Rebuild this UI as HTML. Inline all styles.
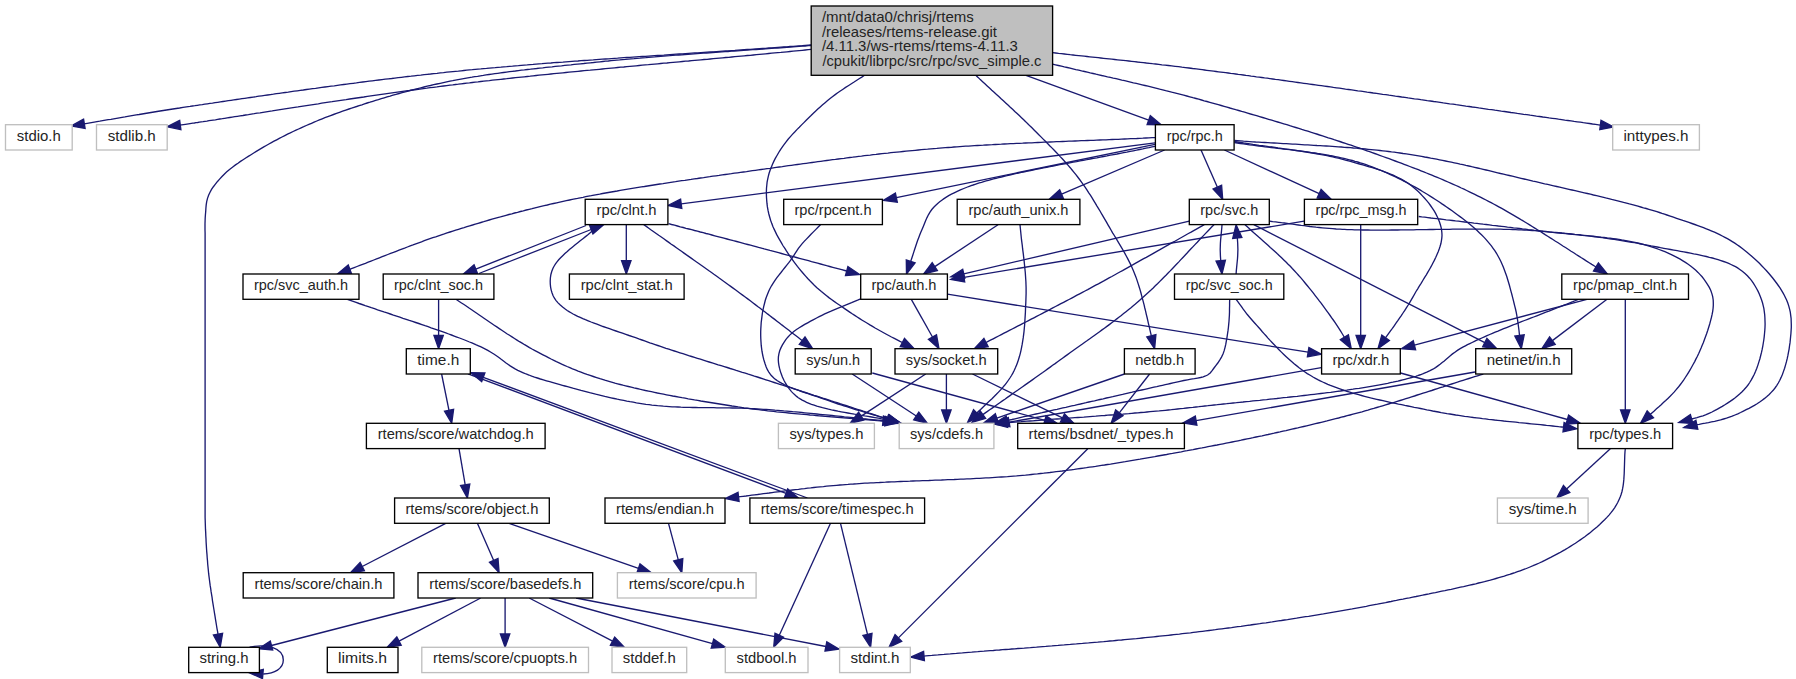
<!DOCTYPE html>
<html><head><meta charset="utf-8"><title>svc_simple.c include graph</title><style>
html,body{margin:0;padding:0;background:#fff;overflow:hidden}
svg{display:block}
text{font-family:"Liberation Sans",sans-serif;font-size:13.93px;fill:#242424}
.n rect{stroke-width:1.333px}
.e path{fill:none;stroke:#191970;stroke-width:1.333px}
.e polygon{fill:#191970;stroke:#191970;stroke-width:1.333px;stroke-linejoin:miter}
</style></head><body>
<svg width="1796" height="679" viewBox="0 0 1796 679">
<rect x="0" y="0" width="1796" height="679" fill="#fff"/>
<g class="e">
<path d="M811.2,45L808.2,45.2 805.2,45.4 802.2,45.7 799.1,45.9 796.1,46.1 793.1,46.3 790,46.5 787,46.8 784,47 780.9,47.2 777.9,47.4 774.8,47.6 771.8,47.8 768.7,48 765.6,48.3 762.6,48.5 759.5,48.7 756.4,48.9 753.4,49.1 750.3,49.3 747.2,49.5 744.2,49.7 741.1,49.9 738,50.1 734.9,50.4 731.8,50.6 728.8,50.8 725.7,51 722.6,51.2 719.5,51.4 716.4,51.6 713.3,51.8 710.2,52 707.1,52.2 704,52.4 700.9,52.6 697.9,52.8 694.8,53 691.7,53.2 688.6,53.4 685.5,53.6 682.4,53.8 679.3,54 676.2,54.2 673.1,54.4 670,54.6 666.9,54.8 663.8,55.1 660.7,55.3 657.7,55.5 654.6,55.7 651.5,55.9 648.4,56.1 645.3,56.3 642.2,56.5 639.1,56.7 636.1,56.9 633,57.1 629.9,57.3 626.8,57.5 623.8,57.7 620.7,57.9 617.6,58.2 614.6,58.4 611.5,58.6 608.4,58.8 605.4,59 602.3,59.2 599.3,59.4 596.2,59.6 593.2,59.9 590.1,60.1 587.1,60.3 584.1,60.5 581,60.7 578,61 575,61.2 572,61.4 569,61.6 565.9,61.8 562.9,62.1 559.9,62.3 556.9,62.5 553.9,62.7 550.9,63 548,63.2 545,63.4 542,63.7 539,63.9 536.1,64.1 533.1,64.4 530.2,64.6 527.2,64.9 524.3,65.1 521.3,65.3 518.4,65.6 515.5,65.8 512.5,66.1 509.6,66.3 506.7,66.6 503.8,66.8 500.9,67.1 498,67.3 495.1,67.6 492.3,67.8 489.4,68.1 486.5,68.4 483.7,68.6 480.8,68.9 478,69.1 475.2,69.4 472.3,69.7 469.5,69.9 466.7,70.2 463.9,70.5 461.1,70.8 458.3,71.1 455.5,71.3 452.8,71.6 450,71.9 446.8,72.2 443.5,72.6 440.3,72.9 437,73.3 433.8,73.6 430.5,74 427.3,74.3 424.1,74.7 420.8,75.1 417.6,75.4 414.3,75.8 411.1,76.2 407.8,76.5 404.6,76.9 401.4,77.3 398.1,77.7 394.9,78.1 391.7,78.5 388.4,78.8 385.2,79.2 382,79.6 378.8,80 375.6,80.4 372.3,80.8 369.1,81.2 365.9,81.6 362.7,82 359.6,82.4 356.4,82.9 353.2,83.3 350,83.7 346.9,84.1 343.7,84.5 340.5,84.9 337.4,85.3 334.3,85.8 331.1,86.2 328,86.6 324.9,87 321.8,87.4 318.7,87.8 315.6,88.3 312.5,88.7 309.4,89.1 306.4,89.5 303.3,90 300.3,90.4 297.3,90.8 294.2,91.2 291.2,91.6 288.2,92.1 285.2,92.5 282.3,92.9 279.3,93.3 276.4,93.7 273.4,94.2 270.5,94.6 267.6,95 264.7,95.4 261.8,95.8 258.9,96.2 256.1,96.7 253.2,97.1 250.4,97.5 247.6,97.9 244.8,98.3 242,98.7 239.2,99.1 236.5,99.5 233.8,99.9 231,100.3 228.3,100.7 225.6,101.1 223,101.5 220.3,101.9 217.7,102.3 215.1,102.7 212.5,103.1 209.9,103.4 207.4,103.8 204.8,104.2 202.3,104.6 199.8,104.9 197.3,105.3 194.9,105.7 192.4,106 190,106.4 186.5,106.9 183,107.4 179.6,108 176.2,108.5 172.9,109 169.7,109.5 166.5,110 163.3,110.5 160.1,111 157,111.5 154,112 151,112.5 148,113 145,113.5 142.1,114 139.1,114.5 136.3,114.9 133.4,115.4 130.5,115.9 127.7,116.4 124.9,116.9 122.1,117.3 119.3,117.8 116.5,118.3 113.7,118.8 110.9,119.3 108.2,119.7 105.4,120.2 102.6,120.7 99.8,121.2 97,121.6 94.2,122.1 91.4,122.6 88.6,123.1 85.7,123.6 84.4,123.8"/><polygon points="83.6,119.2 71.2,126 85.1,128.4"/>
<path d="M811.2,49.4L808.2,49.7 805.2,50 802.2,50.3 799.1,50.6 796.1,50.9 793.1,51.2 790,51.5 787,51.8 784,52.1 780.9,52.4 777.9,52.6 774.8,52.9 771.8,53.2 768.7,53.5 765.6,53.8 762.6,54.1 759.5,54.4 756.4,54.7 753.4,55 750.3,55.3 747.2,55.5 744.2,55.8 741.1,56.1 738,56.4 734.9,56.7 731.8,57 728.8,57.3 725.7,57.5 722.6,57.8 719.5,58.1 716.4,58.4 713.3,58.7 710.2,59 707.1,59.3 704,59.5 700.9,59.8 697.9,60.1 694.8,60.4 691.7,60.7 688.6,61 685.5,61.2 682.4,61.5 679.3,61.8 676.2,62.1 673.1,62.4 670,62.7 666.9,63 663.8,63.2 660.7,63.5 657.7,63.8 654.6,64.1 651.5,64.4 648.4,64.7 645.3,64.9 642.2,65.2 639.1,65.5 636.1,65.8 633,66.1 629.9,66.4 626.8,66.7 623.8,67 620.7,67.2 617.6,67.5 614.6,67.8 611.5,68.1 608.4,68.4 605.4,68.7 602.3,69 599.3,69.3 596.2,69.6 593.2,69.9 590.2,70.2 587.1,70.4 584.1,70.7 581,71 578,71.3 575,71.6 572,71.9 569,72.2 565.9,72.5 562.9,72.8 559.9,73.1 556.9,73.4 553.9,73.7 550.9,74 548,74.3 545,74.6 542,74.9 539,75.2 536.1,75.5 533.1,75.8 530.2,76.2 527.2,76.5 524.3,76.8 521.3,77.1 518.4,77.4 515.5,77.7 512.5,78 509.6,78.3 506.7,78.7 503.8,79 500.9,79.3 498,79.6 495.1,79.9 492.3,80.2 489.4,80.6 486.5,80.9 483.7,81.2 480.8,81.5 478,81.9 475.2,82.2 472.3,82.5 469.5,82.9 466.7,83.2 463.9,83.5 461.1,83.8 458.3,84.2 455.5,84.5 452.8,84.9 450,85.2 446.7,85.6 443.5,86 440.2,86.4 436.9,86.9 433.5,87.3 430.1,87.7 426.8,88.2 423.4,88.6 419.9,89.1 416.5,89.5 413.1,90 409.6,90.5 406.1,90.9 402.6,91.4 399.1,91.9 395.6,92.4 392.1,92.9 388.6,93.4 385.1,93.9 381.5,94.4 378,94.9 374.4,95.4 370.9,95.9 367.4,96.4 363.8,97 360.3,97.5 356.7,98 353.2,98.5 349.7,99 346.1,99.6 342.6,100.1 339.1,100.6 335.6,101.1 332.1,101.7 328.6,102.2 325.2,102.7 321.7,103.2 318.3,103.8 314.8,104.3 311.4,104.8 308,105.3 304.7,105.8 301.3,106.3 298,106.9 294.7,107.4 291.4,107.9 288.1,108.4 284.9,108.9 281.7,109.4 278.5,109.9 275.4,110.4 272.2,110.9 269.1,111.3 266.1,111.8 263,112.3 260.1,112.8 257.1,113.2 254.2,113.7 251.3,114.1 248.4,114.6 245.6,115 242.9,115.5 240.1,115.9 237.4,116.3 234.8,116.7 232.2,117.1 229.7,117.5 227.2,117.9 224.7,118.3 222.3,118.7 219.9,119 217.6,119.4 215.4,119.8 213.2,120.1 211.1,120.4 209,120.7 206.9,121.1 205,121.4 203.1,121.7 201.2,121.9 199.4,122.2 197.7,122.5 196,122.7 194.4,123 192.9,123.2 191.4,123.4 190,123.6 185.4,124.3 181.6,124.8 180.3,125"/><polygon points="179.7,120.4 167.1,126.8 180.9,129.6"/>
<path d="M811.2,45.5L808.2,45.7 805.2,46 802.1,46.2 799.1,46.4 796,46.6 793,46.9 789.9,47.1 786.9,47.3 783.8,47.5 780.7,47.8 777.6,48 774.5,48.2 771.5,48.4 768.4,48.6 765.3,48.9 762.2,49.1 759.1,49.3 756,49.5 752.9,49.7 749.8,49.9 746.7,50.2 743.6,50.4 740.5,50.6 737.4,50.8 734.3,51 731.2,51.2 728.1,51.5 725,51.7 721.9,51.9 718.8,52.1 715.7,52.3 712.6,52.5 709.5,52.8 706.4,53 703.3,53.2 700.2,53.4 697.2,53.6 694.1,53.9 691,54.1 688,54.3 684.9,54.5 681.9,54.8 678.8,55 675.8,55.2 672.7,55.4 669.7,55.7 666.7,55.9 663.7,56.1 660.7,56.4 657.7,56.6 654.7,56.9 651.7,57.1 648.7,57.3 645.8,57.6 642.8,57.8 639.9,58.1 637,58.3 634.1,58.6 631.2,58.8 628.3,59.1 625.4,59.4 622.5,59.6 619.6,59.9 616.8,60.1 614,60.4 611.1,60.7 608.3,61 605.5,61.2 602.8,61.5 600,61.8 596.7,62.1 593.5,62.5 590.3,62.8 587,63.1 583.8,63.5 580.6,63.8 577.4,64.1 574.2,64.4 571,64.8 567.8,65.1 564.7,65.4 561.5,65.8 558.4,66.1 555.2,66.4 552.1,66.8 549,67.1 545.9,67.4 542.8,67.8 539.7,68.1 536.6,68.5 533.6,68.8 530.5,69.2 527.5,69.5 524.4,69.9 521.4,70.2 518.4,70.6 515.4,71 512.4,71.3 509.5,71.7 506.5,72.1 503.5,72.5 500.6,72.9 497.7,73.3 494.8,73.7 491.9,74.1 489,74.5 486.1,74.9 483.3,75.4 480.4,75.8 477.6,76.3 474.8,76.7 472,77.2 469.2,77.6 466.4,78.1 463.6,78.6 460.9,79.1 458.1,79.6 455.4,80.1 452.7,80.7 450,81.2 446.7,81.9 443.4,82.6 440.2,83.3 436.9,84 433.7,84.7 430.4,85.5 427.2,86.2 424,87 420.8,87.8 417.7,88.6 414.5,89.4 411.4,90.2 408.3,91 405.2,91.8 402.1,92.7 399.1,93.5 396,94.4 393,95.2 390.1,96.1 387.1,96.9 384.2,97.8 381.3,98.7 378.4,99.6 375.6,100.4 372.8,101.3 370,102.2 367.2,103 364.5,103.9 361.9,104.8 359.2,105.6 356.6,106.5 354,107.3 351.5,108.2 349,109 345.8,110.1 342.6,111.2 339.5,112.3 336.5,113.4 333.5,114.5 330.6,115.6 327.8,116.6 324.9,117.7 322.2,118.8 319.4,119.9 316.8,121 314.1,122.2 311.5,123.3 308.9,124.4 306.3,125.5 303.7,126.7 301.1,127.8 298.6,129 296,130.2 293.1,131.5 290.3,132.9 287.5,134.2 284.8,135.6 282,137 279.3,138.4 276.7,139.8 274,141.2 271.4,142.6 268.9,144 266.3,145.5 263.8,146.9 261.3,148.4 258.8,149.9 256.3,151.4 253.7,153 251,154.7 248.3,156.4 245.7,158 243.1,159.7 240.5,161.4 238,163.2 235.5,164.9 233.1,166.7 230.8,168.5 228.6,170.3 226.5,172.1 224.5,174 222,176.5 219.6,179.1 217.3,181.7 215.2,184.4 213.2,187 211.4,189.7 209.9,192.5 208.6,195.2 207.5,198.4 206.7,201.6 206.2,204.9 205.9,208.2 205.7,211.5 205.4,215 205.2,217.9 205.1,220.8 205,223.8 205,226.8 205,229.9 205.1,233.1 205.1,236.4 205.1,240 205.1,242.7 205.1,245.4 205.1,248.3 205.1,251.3 205.1,254.4 205.1,257.5 205.1,260.7 205.1,263.9 205.1,267.2 205.1,270.5 205.1,273.8 205.1,277.1 205.1,280.4 205.1,283.6 205.1,286.8 205.1,290 205.1,293.1 205.1,296.2 205.1,299.4 205.1,302.5 205.1,305.6 205.1,308.8 205.1,311.9 205.1,315 205.1,318.1 205.1,321.2 205.1,324.4 205.1,327.5 205.1,330.6 205.1,333.8 205.1,336.9 205.1,340 205.1,343.1 205.1,346.2 205.1,349.4 205.1,352.5 205.1,355.6 205.1,358.8 205.1,361.9 205.1,365 205.1,368.1 205.1,371.2 205.1,374.4 205.1,377.5 205.1,380.6 205.1,383.8 205.1,386.9 205.1,390 205.1,393.1 205.1,396.2 205.1,399.4 205.1,402.5 205.1,405.6 205.1,408.8 205.1,411.9 205.1,415 205.1,418.1 205.1,421.2 205.1,424.4 205.1,427.5 205.1,430.6 205.1,433.8 205.1,436.9 205.1,440 205.1,443.1 205.1,446.3 205.1,449.5 205.1,452.7 205.1,456 205.1,459.2 205.1,462.4 205.1,465.6 205.1,468.8 205.1,472 205.1,475.1 205.1,478.2 205.1,481.2 205.1,484.2 205.1,487.1 205.1,490 205.1,493.3 205.1,496.4 205.1,499.5 205.1,502.4 205.1,505.4 205.1,508.3 205.1,511.2 205.1,514.2 205.1,517.2 205.2,520.3 205.3,523.5 205.4,526.4 205.5,529.4 205.7,532.4 205.8,535.5 206,538.6 206.1,541.8 206.3,545 206.5,548.2 206.7,551.4 207,554.6 207.2,557.8 207.5,560.9 207.7,564 208,567 208.3,570 208.6,573.2 209,576.4 209.4,579.5 209.8,582.6 210.2,585.7 210.7,588.7 211.1,591.7 211.6,594.7 212.1,597.7 212.5,600.8 213,603.9 213.5,607 214,610 214.5,613.1 215,616.2 215.5,619.3 216,622.4 216.5,625.5 217,628.6 217.6,631.7 218,634.2"/><polygon points="213.4,635 220.2,647.3 222.6,633.4"/>
<path d="M864.5,75.3L861.8,77.1 859.1,78.8 856.4,80.5 853.7,82.3 851,84 848.3,85.7 845.6,87.4 843,89.2 840.3,91 837.7,92.8 835.2,94.6 832.7,96.5 830.1,98.5 827.6,100.6 825.1,102.7 822.6,104.8 820.2,106.9 817.8,109.1 815.5,111.3 813.1,113.5 810.8,115.8 808.5,118 806.2,120.3 803.9,122.6 801.6,124.9 799.3,127.3 796.9,129.6 794.7,132 792.4,134.4 790.2,136.9 788.1,139.3 786.1,141.8 784.2,144.3 782.4,146.8 780.5,149.6 778.7,152.5 777,155.5 775.3,158.4 773.8,161.4 772.4,164.4 771.2,167.4 770.1,170.3 769.1,173.3 768.3,176.3 767.7,179.2 767.1,182.2 766.8,185.2 766.5,188.2 766.4,191.2 766.4,194.2 766.5,197.2 766.7,200.4 767,203.7 767.4,206.9 768,210.2 768.7,213.5 769.6,216.8 770.6,220.2 771.8,223.6 772.8,226.2 774,228.9 775.3,231.6 776.6,234.4 778.1,237.1 779.7,239.9 781.3,242.7 782.9,245.5 784.7,248.2 786.4,250.9 788.2,253.6 789.9,256.2 791.7,258.7 793.6,261.3 795.5,263.9 797.4,266.4 799.4,268.9 801.4,271.3 803.5,273.7 805.6,276.1 807.7,278.5 809.9,280.8 812.1,283 814.3,285.2 816.6,287.4 819,289.5 821.4,291.6 823.8,293.6 826.3,295.6 828.9,297.6 831.5,299.5 834.1,301.4 836.7,303.2 839.4,305 842,306.8 844.6,308.6 847.2,310.4 849.7,312.1 852.2,313.8 854.7,315.4 857.2,317 859.7,318.6 862.2,320.2 864.8,321.8 867.3,323.3 869.9,324.9 872.5,326.4 875.1,328 877.8,329.5 880.5,331 883.2,332.5 885.9,334 888.7,335.5 891.5,337 894.3,338.4 897.2,339.9 900,341.4 902.4,342.5"/><polygon points="900.2,346.7 914.2,348.7 904.5,338.4"/>
<path d="M975.8,75.3L978.1,77.4 980.3,79.6 982.6,81.7 984.9,83.8 987.2,85.9 989.5,88 991.8,90.2 994.1,92.3 996.5,94.4 998.8,96.5 1001.1,98.7 1003.4,100.8 1005.7,102.9 1008,105 1010.3,107.2 1012.6,109.3 1014.8,111.4 1017.1,113.5 1019.3,115.6 1021.5,117.7 1023.7,119.8 1025.9,121.9 1028,124 1030.1,126.1 1032.2,128.1 1034.3,130.2 1036.6,132.5 1038.8,134.7 1041,136.9 1043.2,139.1 1045.4,141.3 1047.6,143.5 1049.7,145.7 1051.9,147.9 1054,150 1056.1,152.2 1058.2,154.4 1060.2,156.6 1062.3,158.8 1064.3,161 1066.3,163.2 1068.2,165.4 1070.2,167.7 1072.1,170 1074,172.3 1075.9,174.6 1077.7,177 1079.6,179.5 1081.5,182.1 1083.3,184.6 1085.1,187.2 1086.9,189.9 1088.6,192.6 1090.4,195.2 1092.1,197.9 1093.7,200.6 1095.4,203.4 1097,206.1 1098.7,208.8 1100.3,211.5 1101.8,214.2 1103.4,216.9 1105,219.6 1106.5,222.2 1108,224.8 1109.5,227.4 1111,230 1112.6,232.8 1114.3,235.5 1115.9,238.1 1117.4,240.7 1119,243.3 1120.5,245.9 1122,248.4 1123.5,251 1125,253.6 1126.4,256.2 1127.8,258.9 1129.2,261.6 1130.6,264.4 1131.9,267.3 1133.2,270.3 1134.5,273.4 1135.5,276 1136.5,278.6 1137.4,281.4 1138.3,284.1 1139.2,287 1140.1,289.9 1140.9,292.8 1141.7,295.8 1142.5,298.8 1143.3,301.8 1144.1,304.9 1144.8,308 1145.6,311.2 1146.3,314.3 1147.1,317.5 1147.8,320.6 1148.5,323.8 1149.3,326.9 1150,330.1 1150.7,333.2 1151.3,335.7"/><polygon points="1146.8,336.9 1154.6,348.7 1155.9,334.6"/>
<path d="M1026,75.3L1148.7,120.1"/><polygon points="1147.1,124.5 1161.2,124.7 1150.3,115.7"/>
<path d="M1052.6,52.7L1055.6,53 1058.6,53.4 1061.5,53.7 1064.4,54 1067.3,54.3 1070.2,54.7 1073,55 1075.8,55.3 1078.7,55.6 1081.5,55.9 1084.2,56.2 1087,56.5 1089.8,56.8 1092.6,57.1 1095.3,57.4 1098.1,57.7 1100.8,58 1103.6,58.3 1106.3,58.6 1109.1,58.9 1111.9,59.2 1114.7,59.5 1117.5,59.8 1120.3,60.1 1123.1,60.4 1125.9,60.7 1128.8,61 1131.6,61.3 1134.5,61.6 1137.5,62 1140.4,62.3 1143.4,62.6 1146.4,63 1149.4,63.3 1152.5,63.7 1155.6,64 1158.7,64.4 1161.9,64.8 1165.1,65.1 1168.4,65.5 1171.7,65.9 1175.1,66.3 1178.5,66.7 1181.9,67.2 1185.4,67.6 1189,68 1192.6,68.5 1196.3,68.9 1200,69.4 1202.2,69.7 1204.5,70 1206.8,70.3 1209.1,70.6 1211.4,70.9 1213.7,71.2 1216.1,71.5 1218.5,71.8 1220.9,72.1 1223.3,72.4 1225.7,72.7 1228.2,73 1230.7,73.4 1233.2,73.7 1235.7,74 1238.2,74.4 1240.8,74.7 1243.3,75 1245.9,75.4 1248.5,75.7 1251.1,76.1 1253.8,76.4 1256.4,76.8 1259.1,77.1 1261.8,77.5 1264.5,77.9 1267.2,78.2 1269.9,78.6 1272.7,79 1275.4,79.4 1278.2,79.7 1281,80.1 1283.8,80.5 1286.6,80.9 1289.5,81.3 1292.3,81.7 1295.2,82.1 1298,82.5 1300.9,82.9 1303.8,83.3 1306.7,83.7 1309.6,84.1 1312.6,84.5 1315.5,84.9 1318.5,85.3 1321.4,85.7 1324.4,86.1 1327.4,86.5 1330.4,86.9 1333.4,87.4 1336.4,87.8 1339.5,88.2 1342.5,88.6 1345.5,89.1 1348.6,89.5 1351.7,89.9 1354.7,90.3 1357.8,90.8 1360.9,91.2 1364,91.6 1367.1,92.1 1370.2,92.5 1373.3,93 1376.5,93.4 1379.6,93.8 1382.7,94.3 1385.9,94.7 1389,95.2 1392.2,95.6 1395.4,96.1 1398.5,96.5 1401.7,97 1404.9,97.4 1408.1,97.9 1411.2,98.3 1414.4,98.8 1417.6,99.2 1420.8,99.7 1424,100.1 1427.2,100.6 1430.4,101 1433.7,101.5 1436.9,101.9 1440.1,102.4 1443.3,102.9 1446.5,103.3 1449.7,103.8 1453,104.2 1456.2,104.7 1459.4,105.1 1462.6,105.6 1465.9,106.1 1469.1,106.5 1472.3,107 1475.5,107.4 1478.8,107.9 1482,108.3 1485.2,108.8 1488.4,109.3 1491.7,109.7 1494.9,110.2 1498.1,110.6 1501.3,111.1 1504.5,111.5 1507.7,112 1510.9,112.5 1514.1,112.9 1517.3,113.4 1520.5,113.8 1523.7,114.3 1526.9,114.7 1530.1,115.2 1533.3,115.6 1536.4,116.1 1539.6,116.5 1542.8,117 1545.9,117.4 1549.1,117.9 1552.2,118.3 1555.4,118.7 1558.5,119.2 1561.6,119.6 1564.8,120.1 1567.9,120.5 1571,120.9 1574.1,121.4 1577.2,121.8 1580.3,122.2 1583.3,122.7 1586.4,123.1 1589.5,123.5 1592.5,124 1595.6,124.4 1598.6,124.8 1600.4,125.1"/><polygon points="1599.8,129.7 1613.6,126.9 1601,120.4"/>
<path d="M1052.6,64.1L1055.5,64.8 1058.4,65.5 1061.4,66.2 1064.3,66.9 1067.2,67.5 1070.1,68.2 1072.9,68.9 1075.8,69.6 1078.7,70.2 1081.6,70.9 1084.5,71.5 1087.3,72.2 1090.2,72.9 1093.1,73.5 1096,74.2 1098.8,74.8 1101.7,75.5 1104.6,76.1 1107.5,76.8 1110.3,77.4 1113.2,78.1 1116.1,78.7 1119,79.4 1121.8,80.1 1124.7,80.7 1127.6,81.4 1130.5,82.1 1133.4,82.8 1136.3,83.4 1139.2,84.1 1142.1,84.8 1145,85.5 1148,86.2 1150.9,86.9 1153.8,87.6 1156.8,88.3 1159.7,89.1 1162.7,89.8 1165.7,90.6 1168.7,91.3 1171.7,92.1 1174.7,92.8 1177.7,93.6 1180.7,94.4 1183.7,95.2 1186.8,96 1189.8,96.8 1192.9,97.7 1196,98.5 1198.7,99.2 1201.5,100 1204.2,100.8 1207,101.5 1209.8,102.3 1212.6,103.1 1215.4,103.9 1218.3,104.7 1221.2,105.5 1224.1,106.3 1227,107.1 1229.9,108 1232.8,108.8 1235.7,109.7 1238.7,110.5 1241.7,111.4 1244.6,112.2 1247.6,113.1 1250.6,114 1253.6,114.8 1256.6,115.7 1259.6,116.6 1262.6,117.5 1265.6,118.4 1268.6,119.3 1271.7,120.2 1274.7,121.1 1277.7,122 1280.7,122.9 1283.8,123.8 1286.8,124.7 1289.8,125.7 1292.8,126.6 1295.8,127.5 1298.8,128.4 1301.8,129.4 1304.8,130.3 1307.8,131.2 1310.7,132.2 1313.7,133.1 1316.7,134 1319.6,135 1322.5,135.9 1325.4,136.8 1328.3,137.8 1331.2,138.7 1334.1,139.7 1337,140.6 1339.8,141.5 1342.6,142.5 1345.4,143.4 1348.2,144.3 1351,145.2 1353.7,146.2 1356.4,147.1 1359.1,148 1361.8,148.9 1364.4,149.9 1367,150.8 1369.6,151.7 1372.2,152.6 1374.7,153.5 1377.2,154.4 1379.7,155.3 1382.9,156.5 1386,157.6 1389.1,158.7 1392.2,159.9 1395.2,161 1398.2,162.1 1401.2,163.2 1404.1,164.3 1407,165.4 1409.8,166.5 1412.7,167.6 1415.5,168.7 1418.3,169.7 1421,170.8 1423.8,171.9 1426.5,173 1429.2,174.1 1431.9,175.2 1434.6,176.3 1437.3,177.4 1440,178.5 1442.7,179.7 1445.3,180.8 1448,182 1450.6,183.1 1453.3,184.3 1456,185.5 1458.6,186.7 1461.3,188 1464,189.2 1466.7,190.5 1469.4,191.8 1472.1,193.1 1474.8,194.4 1477.6,195.8 1480.4,197.2 1483.2,198.6 1486,200 1488.5,201.3 1491.1,202.6 1493.6,204 1496.2,205.4 1498.8,206.8 1501.3,208.2 1503.9,209.6 1506.4,211.1 1509,212.6 1511.6,214.1 1514.2,215.6 1516.7,217.1 1519.3,218.6 1521.9,220.2 1524.5,221.7 1527,223.3 1529.6,224.9 1532.2,226.5 1534.8,228.1 1537.4,229.7 1540,231.3 1542.5,232.9 1545.1,234.6 1547.7,236.2 1550.3,237.9 1552.9,239.5 1555.5,241.2 1558.1,242.8 1560.7,244.5 1563.3,246.2 1565.9,247.8 1568.5,249.5 1571.1,251.2 1573.7,252.8 1576.2,254.5 1578.8,256.1 1581.4,257.8 1584,259.4 1586.6,261.1 1589.2,262.7 1591.8,264.4 1594.4,266 1596,267"/><polygon points="1593.5,271 1607.3,274 1598.4,263"/>
<path d="M1155,137.6L1152,137.7 1148.9,137.9 1145.9,138 1142.8,138.2 1139.8,138.3 1136.7,138.5 1133.7,138.6 1130.6,138.7 1127.5,138.9 1124.5,139 1121.4,139.1 1118.3,139.3 1115.2,139.4 1112.1,139.5 1109.1,139.6 1106,139.8 1102.9,139.9 1099.8,140 1096.7,140.1 1093.6,140.3 1090.5,140.4 1087.4,140.5 1084.3,140.6 1081.2,140.7 1078.1,140.9 1075,141 1071.9,141.1 1068.8,141.2 1065.7,141.4 1062.6,141.5 1059.5,141.6 1056.4,141.7 1053.3,141.9 1050.2,142 1047.2,142.1 1044.1,142.2 1041,142.4 1037.9,142.5 1034.8,142.6 1031.8,142.8 1028.7,142.9 1025.6,143 1022.6,143.2 1019.5,143.3 1016.5,143.4 1013.4,143.6 1010.4,143.7 1007.4,143.9 1004.3,144 1001.3,144.2 998.3,144.3 995.3,144.5 992.3,144.7 989.3,144.8 986.3,145 983.3,145.2 980.3,145.3 977.4,145.5 974.4,145.7 971.5,145.9 968.5,146.1 965.6,146.2 962.7,146.4 959.8,146.6 956.9,146.8 954,147 951.1,147.3 948.2,147.5 945.3,147.7 942.5,147.9 939.6,148.1 936.8,148.4 934,148.6 930.8,148.9 927.6,149.2 924.5,149.4 921.4,149.7 918.3,150 915.2,150.3 912.1,150.6 909,150.9 906,151.2 902.9,151.5 899.9,151.8 896.9,152.1 893.9,152.4 890.9,152.7 887.9,153.1 884.9,153.4 882,153.7 879,154 876.1,154.4 873.1,154.7 870.2,155.1 867.3,155.4 864.4,155.7 861.5,156.1 858.6,156.4 855.6,156.8 852.7,157.2 849.8,157.5 846.9,157.9 844.1,158.3 841.2,158.6 838.3,159 835.4,159.4 832.5,159.7 829.6,160.1 826.7,160.5 823.7,160.9 820.8,161.3 817.9,161.7 815,162.1 812.1,162.5 809.1,162.9 806.2,163.3 803.2,163.7 800.3,164.1 797.3,164.5 794.3,164.9 791.4,165.3 788.4,165.7 785.3,166.1 782.3,166.6 779.3,167 776.2,167.4 773.2,167.8 770.1,168.3 767,168.7 764.1,169.1 761.2,169.5 758.3,169.9 755.4,170.3 752.4,170.7 749.5,171.1 746.5,171.6 743.5,172 740.5,172.4 737.5,172.8 734.4,173.2 731.4,173.7 728.3,174.1 725.3,174.5 722.2,174.9 719.1,175.4 716,175.8 712.9,176.2 709.8,176.7 706.7,177.1 703.6,177.6 700.5,178 697.4,178.5 694.3,178.9 691.1,179.4 688,179.8 684.9,180.3 681.7,180.7 678.6,181.2 675.5,181.7 672.4,182.1 669.2,182.6 666.1,183.1 663,183.6 659.9,184 656.8,184.5 653.7,185 650.6,185.5 647.5,186 644.4,186.5 641.4,186.9 638.3,187.4 635.3,187.9 632.2,188.4 629.2,188.9 626.2,189.4 623.2,189.9 620.2,190.4 617.2,191 614.3,191.5 611.3,192 608.4,192.5 605.5,193 602.6,193.5 599.7,194.1 596.9,194.6 594.1,195.1 591.3,195.7 588.5,196.2 585.7,196.7 583,197.3 580.2,197.8 577.5,198.4 574.9,198.9 572.2,199.4 569.6,200 566.3,200.7 563.1,201.4 559.8,202.1 556.7,202.8 553.5,203.5 550.4,204.2 547.3,205 544.2,205.7 541.1,206.4 538.1,207.1 535.1,207.8 532.1,208.6 529.2,209.3 526.2,210 523.3,210.8 520.4,211.5 517.5,212.3 514.6,213 511.8,213.8 508.9,214.5 506.1,215.3 503.3,216.1 500.4,216.9 497.6,217.6 494.8,218.4 492,219.2 489.2,220 486.4,220.8 483.7,221.7 480.9,222.5 478.1,223.3 475.3,224.1 472.5,225 469.7,225.8 466.9,226.7 464.1,227.6 461.3,228.4 458.5,229.3 455.7,230.2 452.8,231.1 450,232 447.1,232.9 444.3,233.9 441.4,234.8 438.5,235.8 435.7,236.8 432.8,237.7 430,238.7 427.1,239.7 424.3,240.7 421.5,241.8 418.7,242.8 415.8,243.8 413,244.9 410.2,245.9 407.4,247 404.6,248.1 401.8,249.1 399,250.2 396.2,251.3 393.4,252.4 390.6,253.4 387.8,254.5 385,255.6 382.2,256.7 379.4,257.8 376.6,258.9 373.8,260 371,261.1 368.2,262.2 365.4,263.3 362.6,264.3 359.8,265.4 357,266.5 354.2,267.6 351.4,268.7 349.9,269.3"/><polygon points="348.2,264.9 337.4,274 351.5,273.6"/>
<path d="M1155,142.9L681.2,203.8"/><polygon points="680.6,199.2 668,205.5 681.8,208.4"/>
<path d="M1155,144.3L896.4,197.7"/><polygon points="895.4,193.1 883.3,200.4 897.3,202.3"/>
<path d="M1155,146.3L1152,146.9 1149,147.6 1145.9,148.2 1142.8,148.9 1139.7,149.5 1136.5,150.2 1133.3,150.8 1130.1,151.4 1126.8,152.1 1123.6,152.7 1120.3,153.3 1117,154 1113.7,154.6 1110.3,155.2 1107,155.9 1103.6,156.5 1100.3,157.1 1096.9,157.8 1093.5,158.4 1090.1,159 1086.7,159.7 1083.3,160.3 1079.9,160.9 1076.6,161.6 1073.2,162.2 1069.8,162.8 1066.5,163.5 1063.1,164.1 1059.8,164.7 1056.4,165.4 1053.1,166 1049.9,166.7 1046.6,167.3 1043.3,167.9 1040.1,168.6 1036.9,169.2 1033.8,169.8 1030.6,170.5 1027.5,171.1 1024.5,171.8 1021.4,172.4 1018.4,173.1 1015.5,173.7 1012.6,174.4 1009.7,175 1006.9,175.7 1004.1,176.3 1001.4,177 998.7,177.6 996,178.3 993.5,178.9 991,179.6 988.5,180.3 986.1,180.9 983.8,181.6 981.5,182.3 979.3,182.9 977.1,183.6 975.1,184.3 973.1,185 971.1,185.6 969.3,186.3 967.5,187 963.8,188.5 960.4,189.9 957.2,191.4 954.2,192.8 951.4,194.2 948.7,195.6 946.3,197.1 944,198.6 941.8,200.2 939.7,201.8 937.7,203.4 935.8,205.2 934,207 931.8,209.5 930,212.1 928.4,214.8 927,217.6 925.7,220.5 924.5,223.5 923.2,226.7 921.8,230 920.7,232.5 919.7,235.1 918.7,237.8 917.6,240.6 916.6,243.5 915.6,246.5 914.6,249.5 913.6,252.6 912.6,255.7 911.6,258.8 910.7,261.4"/><polygon points="906.3,259.9 906.5,274 915.1,262.8"/>
<path d="M1164.6,150L1061.6,194.1"/><polygon points="1059.7,189.8 1049.3,199.3 1063.4,198.4"/>
<path d="M1201,150L1217.3,187.1"/><polygon points="1213.1,189 1222.7,199.3 1221.6,185.2"/>
<path d="M1224.4,150L1319.2,193.7"/><polygon points="1317.2,198 1331.3,199.3 1321.1,189.5"/>
<path d="M1234.4,141.5L1237.4,142 1240.5,142.5 1243.6,143 1246.7,143.4 1249.8,143.9 1252.9,144.4 1256,144.8 1259.2,145.3 1262.3,145.7 1265.5,146.1 1268.6,146.6 1271.8,147 1275,147.4 1278.1,147.9 1281.3,148.3 1284.4,148.8 1287.6,149.2 1290.7,149.6 1293.9,150.1 1297,150.6 1300.1,151 1303.2,151.5 1306.2,152 1309.3,152.5 1312.3,153 1315.3,153.5 1318.3,154 1321.3,154.6 1324.2,155.1 1327.1,155.7 1329.9,156.3 1332.8,156.9 1335.5,157.6 1338.3,158.2 1341,158.9 1343.7,159.6 1346.3,160.3 1349.6,161.2 1352.9,162.1 1356.2,163.1 1359.5,164 1362.8,164.9 1366,165.8 1369.2,166.8 1372.4,167.7 1375.5,168.7 1378.6,169.7 1381.6,170.7 1384.6,171.8 1387.5,172.9 1390.4,174 1393.2,175.2 1396,176.5 1398.6,177.8 1401.2,179.1 1403.8,180.6 1406.2,182.1 1408.6,183.6 1410.8,185.3 1413,187 1415.4,189 1417.7,191.1 1420,193.3 1422.2,195.6 1424.4,198 1426.5,200.4 1428.6,202.9 1430.5,205.5 1432.3,208.1 1434,210.7 1435.6,213.4 1437,216.2 1438.3,218.9 1439.4,221.7 1440.3,224.5 1441.1,227.4 1441.6,230.2 1441.9,233 1442,235.5 1441.8,238.1 1441.4,240.8 1440.9,243.5 1440.1,246.2 1439.2,249 1438.2,251.8 1437,254.6 1435.7,257.5 1434.3,260.4 1432.8,263.3 1431.3,266.2 1429.7,269 1428,271.9 1426.3,274.8 1424.5,277.7 1422.8,280.5 1421.1,283.3 1419.3,286.1 1417.7,288.8 1416,291.5 1414.5,294.2 1413,296.8 1411.4,299.6 1409.8,302.3 1408.2,305 1406.5,307.7 1404.8,310.3 1403,313 1401.3,315.6 1399.5,318.1 1397.8,320.7 1396,323.2 1394.2,325.8 1392.4,328.3 1390.5,330.8 1388.7,333.4 1386.9,335.9 1385.6,337.7"/><polygon points="1381.8,335.1 1378,348.7 1389.4,340.4"/>
<path d="M1234.4,142.5L1237.4,143 1240.4,143.5 1243.4,143.9 1246.5,144.3 1249.5,144.8 1252.6,145.2 1255.7,145.6 1258.8,146 1261.9,146.4 1265,146.8 1268.1,147.1 1271.2,147.5 1274.3,147.9 1277.4,148.3 1280.6,148.6 1283.7,149 1286.8,149.4 1289.9,149.7 1293,150.1 1296.1,150.5 1299.2,150.9 1302.3,151.3 1305.4,151.7 1308.4,152.1 1311.5,152.6 1314.5,153 1317.5,153.5 1320.6,153.9 1323.6,154.4 1326.5,154.9 1329.5,155.5 1332.4,156 1335.3,156.6 1338.2,157.2 1341.1,157.8 1343.9,158.4 1346.7,159.1 1349.5,159.8 1352.3,160.5 1355,161.3 1357.7,162 1360.4,162.9 1363,163.7 1366.1,164.7 1369.1,165.8 1372.1,166.9 1375.1,168.1 1378.1,169.3 1381.1,170.5 1384,171.7 1386.9,173 1389.8,174.3 1392.7,175.6 1395.5,176.9 1398.4,178.3 1401.2,179.7 1403.9,181.1 1406.7,182.5 1409.4,184 1412.1,185.5 1414.7,186.9 1417.4,188.4 1420,189.9 1422.5,191.5 1425.1,193 1427.6,194.5 1430.1,196.1 1432.5,197.6 1435,199.2 1437.4,200.7 1439.7,202.3 1442,203.9 1444.3,205.4 1446.6,207 1449.3,208.9 1452.1,210.8 1454.7,212.7 1457.4,214.7 1460,216.6 1462.6,218.5 1465.1,220.5 1467.6,222.5 1470.1,224.5 1472.5,226.5 1474.8,228.5 1477.1,230.6 1479.3,232.7 1481.5,234.8 1483.6,236.9 1485.7,239.1 1487.6,241.4 1489.5,243.6 1491.4,245.9 1493.1,248.3 1494.8,250.7 1496.5,253.3 1498,256 1499.5,258.7 1500.9,261.5 1502.2,264.4 1503.4,267.3 1504.5,270.3 1505.6,273.3 1506.7,276.3 1507.6,279.3 1508.5,282.3 1509.4,285.3 1510.2,288.4 1511,291.4 1511.8,294.3 1512.6,297.3 1513.3,300.2 1514,303 1514.7,305.8 1515.5,309 1516.2,312.1 1516.8,315.3 1517.3,318.4 1517.8,321.4 1518.2,324.5 1518.6,327.5 1519,330.5 1519.3,333.5 1519.6,335.4"/><polygon points="1514.9,336.1 1521.3,348.7 1524.2,334.8"/>
<path d="M1234.4,140.5L1237.4,140.7 1240.4,140.9 1243.5,141.2 1246.5,141.4 1249.5,141.6 1252.6,141.8 1255.6,142 1258.7,142.1 1261.7,142.3 1264.8,142.5 1267.9,142.7 1270.9,142.9 1274,143 1277.1,143.2 1280.1,143.4 1283.2,143.6 1286.3,143.7 1289.4,143.9 1292.4,144.1 1295.5,144.2 1298.6,144.4 1301.7,144.6 1304.7,144.8 1307.8,144.9 1310.9,145.1 1313.9,145.3 1317,145.5 1320.1,145.6 1323.1,145.8 1326.2,146 1329.2,146.2 1332.3,146.4 1335.3,146.6 1338.3,146.8 1341.4,147 1344.4,147.3 1347.4,147.5 1350.4,147.7 1353.4,148 1356.4,148.2 1359.4,148.5 1362.3,148.7 1365.3,149 1368.2,149.3 1371.2,149.6 1374.1,149.9 1377,150.2 1380,150.5 1382.9,150.8 1385.7,151.1 1388.6,151.5 1391.5,151.9 1394.3,152.2 1397.2,152.6 1400,153 1403.1,153.5 1406.3,153.9 1409.4,154.4 1412.5,154.9 1415.5,155.4 1418.6,155.9 1421.6,156.4 1424.6,157 1427.7,157.5 1430.7,158.1 1433.6,158.6 1436.6,159.2 1439.6,159.8 1442.5,160.4 1445.5,161 1448.4,161.6 1451.3,162.2 1454.3,162.8 1457.2,163.4 1460.1,164.1 1463,164.7 1465.9,165.4 1468.8,166 1471.7,166.7 1474.6,167.3 1477.5,168 1480.4,168.7 1483.2,169.3 1486.1,170 1489,170.7 1491.9,171.4 1494.8,172.1 1497.7,172.8 1500.6,173.5 1503.5,174.1 1506.4,174.8 1509.3,175.5 1512.3,176.2 1515.2,176.9 1518.1,177.6 1521.1,178.3 1524.1,179 1527,179.7 1530,180.4 1532.9,181.1 1535.8,181.7 1538.7,182.4 1541.7,183.1 1544.7,183.8 1547.7,184.4 1550.7,185.1 1553.7,185.8 1556.7,186.5 1559.7,187.2 1562.8,187.9 1565.9,188.6 1568.9,189.3 1572,190 1575.1,190.7 1578.1,191.4 1581.2,192.1 1584.3,192.8 1587.4,193.5 1590.4,194.2 1593.5,195 1596.5,195.7 1599.6,196.4 1602.6,197.1 1605.7,197.9 1608.7,198.6 1611.7,199.4 1614.7,200.1 1617.7,200.8 1620.6,201.6 1623.6,202.4 1626.5,203.1 1629.4,203.9 1632.3,204.6 1635.1,205.4 1637.9,206.2 1640.7,207 1643.5,207.8 1646.2,208.5 1648.9,209.3 1651.6,210.1 1654.3,210.9 1656.9,211.7 1659.4,212.5 1662,213.4 1664.5,214.2 1666.9,215 1670.2,216.1 1673.4,217.2 1676.6,218.3 1679.7,219.3 1682.8,220.4 1685.9,221.4 1688.9,222.4 1691.9,223.5 1694.8,224.5 1697.8,225.6 1700.6,226.6 1703.5,227.7 1706.3,228.8 1709,229.9 1711.8,231.1 1714.5,232.2 1717.1,233.4 1719.7,234.7 1722.3,236 1724.9,237.3 1727.4,238.7 1729.9,240.1 1732.3,241.6 1734.8,243.1 1737.1,244.7 1739.5,246.4 1742,248.3 1744.5,250.2 1747,252.3 1749.6,254.4 1752,256.5 1754.5,258.7 1757,261 1759.4,263.3 1761.7,265.7 1764,268.1 1766.3,270.5 1768.5,273 1770.6,275.5 1772.7,278 1774.6,280.5 1776.5,283 1778.3,285.5 1780,287.9 1781.5,290.4 1783,292.9 1784.3,295.3 1785.5,297.7 1786.6,300 1787.8,303.1 1788.8,306.1 1789.6,309.2 1790.3,312.2 1790.7,315.3 1791.1,318.3 1791.2,321.4 1791.3,324.4 1791.3,327.5 1791.1,330.6 1790.9,333.7 1790.6,336.8 1790.3,340 1790,342.9 1789.5,346 1789.1,349.1 1788.5,352.2 1787.9,355.4 1787.2,358.7 1786.4,361.9 1785.5,365.1 1784.6,368.2 1783.5,371.4 1782.4,374.4 1781.1,377.4 1779.8,380.2 1778.3,383 1776.7,385.6 1775,388 1773.2,390.3 1771.2,392.4 1769.2,394.5 1766.9,396.5 1764.6,398.4 1762.2,400.2 1759.7,402 1757.1,403.7 1754.4,405.3 1751.7,406.8 1749,408.3 1746.2,409.7 1743.4,411.1 1740.6,412.5 1737.8,413.8 1735,415 1732.2,416.2 1729.4,417.2 1726.5,418.2 1723.6,419 1720.6,419.9 1717.6,420.6 1714.6,421.3 1711.5,421.9 1708.5,422.6 1705.4,423.2 1702.3,423.7 1699.2,424.3 1696.8,424.7"/><polygon points="1695.9,420.2 1683.8,427.5 1697.8,429.3"/>
<path d="M586.1,225.5L475.8,269.1"/><polygon points="474.1,264.8 463.4,274 477.5,273.4"/>
<path d="M478.9,273.5L591.2,229.5"/><polygon points="592.9,233.9 603.6,224.7 589.5,225.2"/>
<path d="M626.3,224.7L626.3,260.7"/><polygon points="621.6,260.7 626.3,274 631,260.7"/>
<path d="M668.6,223.7L671.6,224.5 674.5,225.2 677.4,226 680.3,226.8 683.2,227.5 686,228.3 688.9,229 691.7,229.7 694.6,230.5 697.4,231.2 700.3,232 703.2,232.7 706,233.5 709,234.2 711.9,235 714.8,235.8 717.8,236.6 720.9,237.4 723.9,238.2 727,239 730.2,239.8 733.4,240.7 736.7,241.5 740,242.4 742.6,243.1 745.2,243.8 747.8,244.5 750.5,245.2 753.1,245.9 755.9,246.6 758.6,247.4 761.4,248.1 764.2,248.9 767,249.6 769.9,250.4 772.8,251.1 775.7,251.9 778.6,252.7 781.5,253.5 784.5,254.3 787.4,255.1 790.4,255.9 793.4,256.7 796.4,257.5 799.4,258.3 802.4,259.1 805.4,259.9 808.5,260.7 811.5,261.6 814.5,262.4 817.6,263.2 820.6,264 823.7,264.8 826.7,265.7 829.7,266.5 832.8,267.3 835.8,268.1 838.8,268.9 841.8,269.7 844.8,270.5 846.7,271"/><polygon points="845.5,275.5 859.6,274.5 847.9,266.5"/>
<path d="M643.8,224.7L646.3,226.4 648.8,228.2 651.2,230 653.7,231.7 656.2,233.5 658.7,235.3 661.3,237 663.8,238.8 666.3,240.6 668.8,242.4 671.3,244.2 673.9,245.9 676.4,247.7 678.9,249.5 681.5,251.3 684,253.1 686.5,254.9 689,256.6 691.5,258.4 694.1,260.2 696.6,262 699.1,263.7 701.6,265.5 704.1,267.3 706.5,269 709,270.8 711.5,272.5 713.9,274.3 716.4,276 718.8,277.8 721.2,279.5 723.6,281.3 726,283 728.4,284.7 730.7,286.4 733.1,288.1 735.4,289.8 737.7,291.5 740,293.2 742.6,295.1 745.2,297 747.7,298.9 750.3,300.8 752.8,302.7 755.3,304.6 757.7,306.5 760.2,308.3 762.6,310.2 765.1,312 767.5,313.9 769.9,315.7 772.3,317.6 774.7,319.4 777,321.2 779.4,323 781.8,324.9 784.2,326.7 786.5,328.5 788.9,330.3 791.2,332.2 793.6,334 796,335.8 798.3,337.6 800.7,339.5 802.1,340.6"/><polygon points="799.3,344.3 812.7,348.7 805,336.9"/>
<path d="M598,226L595.7,228.1 593.3,230.2 590.8,232.3 588.2,234.5 585.5,236.6 582.9,238.7 580.2,240.8 577.5,243 574.9,245.1 572.3,247.2 569.7,249.3 567.3,251.5 564.9,253.6 562.7,255.7 560.6,257.8 558.7,259.8 557,261.9 555.5,263.9 554.2,266 553.1,268 551.8,271.2 550.9,274.5 550.4,277.7 550.2,280.9 550.3,284.1 550.6,287.1 551.2,290.1 552,292.8 553,295.5 554.3,298 555.9,300.3 557.8,302.6 560,304.8 562.6,307 565.5,309.3 567.2,310.5 569,311.6 571,312.8 573.1,314 575.3,315.1 577.7,316.3 580.2,317.4 582.8,318.6 585.4,319.7 588.2,320.8 591.1,322 594,323.1 597,324.2 600,325.3 603.1,326.5 606.3,327.6 609.5,328.7 612.7,329.8 616,331 619.2,332.1 622.5,333.2 625.8,334.3 629.1,335.5 632.4,336.6 635.6,337.7 638.8,338.9 642,340 644.6,340.9 647.2,341.8 649.8,342.8 652.4,343.7 655.1,344.6 657.8,345.5 660.5,346.4 663.2,347.3 666,348.3 668.8,349.2 671.6,350.1 674.4,351 677.2,351.9 680,352.8 682.9,353.7 685.8,354.6 688.7,355.6 691.6,356.5 694.5,357.4 697.4,358.3 700.4,359.2 703.3,360.1 706.3,361.1 709.2,362 712.2,362.9 715.2,363.8 718.2,364.8 721.2,365.7 724.2,366.6 727.2,367.5 730.2,368.5 733.2,369.4 736.2,370.4 739.3,371.3 742.3,372.3 745.3,373.2 748.3,374.2 751.4,375.1 754.4,376.1 757.4,377 760.4,378 763.1,378.9 765.9,379.8 768.7,380.7 771.5,381.6 774.2,382.5 777,383.4 779.8,384.3 782.6,385.2 785.5,386.1 788.3,387 791.1,387.9 794,388.8 796.8,389.7 799.6,390.6 802.5,391.6 805.4,392.5 808.2,393.4 811.1,394.3 814,395.3 816.9,396.2 819.7,397.1 822.6,398.1 825.5,399 828.4,399.9 831.3,400.9 834.2,401.8 837.1,402.7 840,403.7 842.9,404.6 845.8,405.5 848.7,406.5 851.6,407.4 854.5,408.4 857.4,409.3 860.3,410.2 863.2,411.2 866.1,412.1 869,413.1 871.9,414 874.8,414.9 877.7,415.9 880.6,416.8 883.5,417.7 886.4,418.7 888.1,419.2"/><polygon points="886.7,423.6 900.8,423.3 889.5,414.8"/>
<path d="M438.6,299.3L438.6,335.3"/><polygon points="433.9,335.3 438.6,348.7 443.3,335.3"/>
<path d="M456,299.3L458.5,301 461.1,302.7 463.6,304.3 466.2,306 468.7,307.8 471.3,309.5 473.8,311.2 476.4,313 478.9,314.7 481.5,316.5 484,318.2 486.6,320 489.1,321.7 491.7,323.5 494.2,325.2 496.8,326.9 499.3,328.6 501.8,330.3 504.4,332 506.9,333.7 509.5,335.3 512,336.9 514.5,338.5 517,340.1 519.5,341.7 522.1,343.2 524.6,344.7 527.1,346.1 529.5,347.6 532,349 534.5,350.3 537.4,351.8 540.2,353.3 543,354.8 545.7,356.2 548.4,357.6 551.1,359 553.8,360.3 556.4,361.6 559.1,362.8 561.7,364.1 564.4,365.3 567.1,366.5 569.8,367.6 572.5,368.8 575.3,369.9 578.1,371.1 581,372.2 584,373.3 587,374.4 590.1,375.4 593.3,376.5 596.6,377.6 600,378.7 602.4,379.4 604.8,380.2 607.3,380.9 609.8,381.6 612.4,382.3 614.9,383.1 617.6,383.8 620.2,384.5 622.9,385.2 625.6,385.8 628.4,386.5 631.2,387.2 634,387.9 636.9,388.5 639.7,389.2 642.6,389.8 645.5,390.5 648.5,391.1 651.4,391.7 654.4,392.3 657.4,393 660.5,393.6 663.5,394.2 666.5,394.8 669.6,395.4 672.7,396 675.8,396.5 678.9,397.1 682,397.7 685.1,398.2 688.2,398.8 691.4,399.3 694.5,399.9 697.7,400.4 700.8,401 703.9,401.5 707.1,402 710.2,402.5 713.4,403 716.5,403.5 719.6,404 722.7,404.5 725.9,405 729,405.5 732,406 735.1,406.4 738.2,406.9 741.1,407.3 744,407.8 746.9,408.2 749.9,408.6 752.8,409 755.8,409.3 758.7,409.7 761.7,410.1 764.7,410.4 767.6,410.8 770.6,411.1 773.6,411.4 776.6,411.8 779.6,412.1 782.6,412.4 785.6,412.7 788.7,413 791.7,413.3 794.7,413.6 797.7,413.9 800.8,414.2 803.8,414.4 806.9,414.7 809.9,415 813,415.2 816,415.5 819.1,415.8 822.1,416 825.2,416.3 828.2,416.5 831.3,416.8 834.4,417 837.4,417.3 840.5,417.5 843.6,417.8 846.6,418 849.7,418.3 852.8,418.5 855.8,418.8 858.9,419 861.9,419.3 865,419.5 868.1,419.8 871.1,420 874.2,420.3 877.2,420.6 880.3,420.8 883.3,421.1 885.2,421.3"/><polygon points="884.8,425.9 898.5,422.5 885.7,416.6"/>
<path d="M347.4,299.3L350.3,300.4 353.2,301.4 356.1,302.4 359.1,303.5 362.1,304.5 365.2,305.6 368.3,306.6 371.3,307.7 374.5,308.7 377.6,309.8 380.7,310.8 383.9,311.9 387.1,312.9 390.3,314 393.4,315.1 396.6,316.1 399.8,317.2 403,318.3 406.2,319.3 409.3,320.4 412.5,321.4 415.7,322.5 418.8,323.5 421.9,324.6 425,325.7 428.1,326.7 431.1,327.8 434.1,328.8 437.1,329.8 440.1,330.9 443,331.9 445.8,332.9 448.7,334 451.5,335 454.2,336 456.9,337 459.5,338 462.1,339 464.7,340 467.1,341 469.5,342 471.9,342.9 474.1,343.9 476.3,344.9 478.5,345.8 480.5,346.7 482.5,347.7 484.4,348.6 487.8,350.4 490.9,352.2 493.8,354 496.4,355.7 498.9,357.5 501.2,359.3 503.5,361 505.7,362.7 507.9,364.3 510.2,365.9 512.6,367.4 515.1,368.9 517.8,370.3 520.6,371.6 523.3,372.8 526.1,374 528.9,375 531.7,376.1 534.5,377.1 537.4,378 540.4,379 543.4,379.9 546.5,380.8 549.7,381.7 553,382.6 556.5,383.6 560,384.6 562.4,385.3 564.9,386 567.5,386.7 570.1,387.4 572.8,388.2 575.5,388.9 578.2,389.6 581,390.4 583.9,391.1 586.8,391.9 589.7,392.7 592.7,393.4 595.7,394.2 598.7,394.9 601.7,395.6 604.8,396.4 607.9,397.1 611,397.8 614.2,398.5 617.3,399.2 620.5,399.8 623.7,400.4 626.8,401.1 630,401.7 633.2,402.2 636.4,402.8 639.6,403.3 642.8,403.8 645.9,404.3 649.1,404.7 651.9,405.1 654.8,405.4 657.6,405.7 660.5,405.9 663.4,406.2 666.3,406.4 669.2,406.6 672.1,406.8 675,406.9 677.9,407 680.9,407.2 683.8,407.3 686.8,407.4 689.7,407.4 692.7,407.5 695.7,407.5 698.7,407.6 701.7,407.6 704.7,407.7 707.8,407.7 710.8,407.7 713.8,407.7 716.9,407.8 719.9,407.8 723,407.8 726.1,407.9 729.2,407.9 732.3,408 735.4,408 738.5,408.1 741.6,408.2 744.7,408.3 747.8,408.4 751,408.6 754.1,408.7 757.2,408.9 760.4,409.1 763.3,409.3 766.2,409.5 769.1,409.7 772,409.9 774.9,410.2 777.9,410.4 780.8,410.6 783.8,410.9 786.7,411.1 789.7,411.4 792.7,411.7 795.7,411.9 798.7,412.2 801.7,412.5 804.7,412.8 807.7,413.1 810.8,413.4 813.8,413.7 816.8,414 819.9,414.3 822.9,414.6 826,414.9 829,415.2 832.1,415.5 835.2,415.8 838.2,416.1 841.3,416.4 844.4,416.8 847.4,417.1 850.5,417.4 853.6,417.7 856.6,418 859.7,418.3 862.8,418.7 865.8,419 868.9,419.3 872,419.6 875,419.9 878.1,420.2 881.1,420.5 883,420.7"/><polygon points="882.6,425.4 896.3,422 883.5,416.1"/>
<path d="M820.5,224.7L818.2,227 815.9,229.4 813.4,231.9 811,234.3 808.7,236.7 806.4,239.1 804.2,241.4 802.2,243.6 800.4,245.8 798.4,248.4 796.8,250.8 795.3,253.2 793.6,255.8 791.7,258.7 790.3,260.7 788.6,262.9 786.8,265.1 784.9,267.5 783,269.9 781,272.5 778.9,275.1 776.9,277.7 775,280.4 773.2,283.1 771.5,285.8 770,288.5 768.7,291.2 767.5,294.2 766.3,297.2 765.3,300.3 764.5,303.5 763.7,306.6 763,309.8 762.4,313 762,316.2 761.6,319.4 761.2,322.5 761,325.7 760.8,328.9 760.7,332.1 760.7,335.4 760.8,338.7 761,342 761.2,345.2 761.6,348.4 762,351.5 762.6,354.5 763.2,357.3 763.9,360 765,363.5 766.1,366.7 767.4,369.7 769,372.5 771.1,375.3 773.8,378 775.5,379.4 777.4,380.8 779.6,382.1 781.9,383.4 784.3,384.6 787,385.8 789.7,387 792.6,388.2 795.6,389.3 798.6,390.4 801.7,391.5 804.9,392.6 808.1,393.7 811.4,394.8 814.6,395.9 817.9,396.9 821.1,398 824.2,399.1 827.3,400.2 830,401.2 832.7,402.1 835.5,403.1 838.2,404 841.1,404.9 843.9,405.8 846.8,406.7 849.7,407.7 852.6,408.6 855.5,409.5 858.5,410.4 861.4,411.2 864.4,412.1 867.4,413 870.3,413.9 873.3,414.8 876.3,415.7 879.3,416.6 882.3,417.4 885.3,418.3 887.2,418.9"/><polygon points="885.9,423.4 900,422.8 888.6,414.5"/>
<path d="M1020,224.7L1020.3,227.7 1020.6,230.7 1020.9,233.7 1021.2,236.7 1021.5,239.7 1021.9,242.7 1022.3,245.7 1022.6,248.7 1023,251.7 1023.4,254.7 1023.7,257.7 1024.1,260.7 1024.4,263.7 1024.7,266.7 1025,269.7 1025.3,272.7 1025.5,275.7 1025.7,278.7 1025.9,281.8 1026,284.8 1026.1,287.8 1026.1,290.8 1026.1,293.8 1026,296.8 1025.9,299.9 1025.8,303 1025.6,306.1 1025.5,309.3 1025.4,312.4 1025.2,315.6 1025,318.8 1024.8,322 1024.6,325.2 1024.3,328.4 1024,331.6 1023.6,334.8 1023.2,337.9 1022.7,341.1 1022.2,344.2 1021.6,347.3 1021,350.3 1020.3,353.3 1019.5,356.3 1018.6,359.2 1017.7,362.1 1016.6,364.9 1015.5,367.6 1014.3,370.3 1013,372.9 1011.5,375.5 1009.9,378 1008.2,380.5 1006.5,382.9 1004.6,385.3 1002.6,387.6 1000.6,389.9 998.5,392.1 996.4,394.3 994.2,396.5 992,398.7 989.7,400.8 987.4,403 985.2,405.1 982.9,407.2 980.6,409.4 978.3,411.5 976.8,413"/><polygon points="973.5,409.7 967.5,422.5 980.1,416.2"/>
<path d="M998,224.7L934.8,266.6"/><polygon points="932.2,262.7 923.7,274 937.4,270.5"/>
<path d="M911.3,299.3L932.5,337"/><polygon points="928.4,339.3 939,348.7 936.5,334.8"/>
<path d="M860.6,298.9L857.6,300.2 854.6,301.4 851.6,302.7 848.6,303.9 845.5,305.1 842.5,306.4 839.4,307.6 836.4,308.8 833.4,310.1 830.5,311.4 827.6,312.6 824.7,313.9 821.9,315.3 819.2,316.6 816.6,318 813.6,319.6 810.6,321.2 807.7,322.8 804.7,324.4 801.9,326.1 799.2,327.7 796.5,329.5 794.1,331.3 791.8,333.2 789.7,335.1 787.8,337.2 785.8,339.7 784,342.4 782.3,345.1 780.9,347.9 779.7,350.8 778.9,353.8 778.4,356.9 778.3,360 778.5,362.6 778.9,365.3 779.5,368.2 780.3,371.1 781.3,374.1 782.4,377.1 783.9,380.2 785.5,383.2 787.3,386.1 789.3,388.9 791.5,391.6 794,394.1 796.6,396.4 798.3,397.7 800.2,398.9 802.2,400.1 804.4,401.2 806.6,402.3 809,403.3 811.5,404.3 814.1,405.2 816.8,406.1 819.6,406.9 822.5,407.7 825.4,408.4 828.5,409.2 831.5,409.9 834.7,410.5 837.9,411.2 841.2,411.8 844.5,412.4 847.8,413 851.2,413.6 854.5,414.2 857.9,414.7 861.3,415.3 864.7,415.9 868.1,416.4 871.5,417 874.9,417.6 878.3,418.2 881.6,418.8 884.9,419.4 887.5,419.9"/><polygon points="886.5,424.5 900.5,422.8 888.5,415.3"/>
<path d="M947.4,294.1L1308.1,352.2"/><polygon points="1307.4,356.8 1321.3,354.3 1308.9,347.6"/>
<path d="M1189.3,221.2L963.8,273.8"/><polygon points="962.7,269.2 950.8,276.8 964.8,278.3"/>
<path d="M1304.1,221.2L964,277.3"/><polygon points="963.2,272.7 950.8,279.5 964.7,281.9"/>
<path d="M1222,224.7L1221.8,227.8 1221.5,230.9 1221.2,234 1220.9,237.1 1220.6,240.2 1220.4,243.3 1220.3,246.4 1220.2,249.5 1220.3,252.6 1220.4,255.6 1220.6,258.7 1220.8,260.7"/><polygon points="1216.1,261.1 1222,274 1225.4,260.3"/>
<path d="M1236.1,274L1236.3,270.9 1236.6,267.9 1236.9,264.8 1237.2,261.8 1237.5,258.7 1237.7,255.6 1237.8,252.6 1237.9,249.5 1237.8,246.4 1237.7,243.3 1237.5,240.2 1237.3,237.9"/><polygon points="1241.9,237.5 1236.1,224.7 1232.7,238.4"/>
<path d="M1204.3,224.7L1201.7,226.1 1199,227.6 1196.4,229.1 1193.7,230.6 1191.1,232.1 1188.4,233.5 1185.8,235 1183.2,236.5 1180.5,238 1177.9,239.5 1175.3,241 1172.6,242.4 1170,243.9 1167.4,245.4 1164.7,246.9 1162.1,248.4 1159.5,249.9 1156.8,251.3 1154.2,252.8 1151.6,254.3 1148.9,255.8 1146.3,257.3 1143.7,258.7 1141,260.2 1138.4,261.7 1135.7,263.2 1133.1,264.7 1130.4,266.1 1127.8,267.6 1125.1,269.1 1122.5,270.6 1119.8,272 1117.1,273.5 1114.5,275 1111.8,276.5 1109.1,277.9 1106.5,279.4 1103.8,280.9 1101.1,282.3 1098.4,283.8 1095.7,285.2 1093,286.7 1090.4,288.1 1087.7,289.6 1085,291 1082.4,292.4 1079.7,293.8 1077,295.2 1074.4,296.7 1071.7,298.1 1069,299.5 1066.3,300.9 1063.6,302.3 1060.9,303.7 1058.2,305.1 1055.5,306.5 1052.8,307.9 1050.1,309.4 1047.4,310.8 1044.7,312.2 1042,313.6 1039.3,315 1036.6,316.4 1033.9,317.8 1031.2,319.2 1028.5,320.6 1025.8,322 1023,323.4 1020.3,324.8 1017.6,326.2 1014.9,327.6 1012.2,329 1009.4,330.4 1006.7,331.8 1004,333.2 1001.3,334.6 998.6,336 995.9,337.4 993.2,338.8 990.4,340.2 987.7,341.6 986,342.5"/><polygon points="983.9,338.4 974.2,348.7 988.2,346.7"/>
<path d="M1214,224.7L1211.9,226.8 1209.8,229 1207.7,231.2 1205.6,233.4 1203.5,235.6 1201.4,237.8 1199.3,240 1197.3,242.2 1195.2,244.4 1193.1,246.6 1191,248.8 1188.9,251 1186.9,253.3 1184.8,255.5 1182.7,257.7 1180.6,259.9 1178.6,262.1 1176.5,264.3 1174.4,266.5 1172.3,268.7 1170.2,270.9 1168.1,273 1166,275.2 1163.9,277.3 1161.7,279.5 1159.6,281.6 1157.5,283.7 1155.3,285.8 1153.2,287.9 1151,290 1148.8,292 1146.6,294 1144.4,296 1142.2,298 1140,300 1137.7,302 1135.4,304 1133,305.9 1130.7,307.9 1128.4,309.8 1126,311.7 1123.6,313.6 1121.3,315.5 1118.9,317.3 1116.5,319.1 1114.1,321 1111.7,322.8 1109.3,324.6 1106.9,326.4 1104.4,328.2 1102,329.9 1099.6,331.7 1097.1,333.5 1094.7,335.2 1092.2,337 1089.8,338.7 1087.3,340.5 1084.8,342.2 1082.4,344 1079.9,345.7 1077.4,347.5 1074.9,349.3 1072.5,351 1070,352.8 1067.5,354.6 1065,356.4 1062.5,358.2 1060,360 1057.6,361.8 1055.1,363.6 1052.6,365.3 1050.2,367.1 1047.7,368.9 1045.2,370.7 1042.7,372.5 1040.2,374.2 1037.7,376 1035.2,377.8 1032.7,379.6 1030.2,381.4 1027.7,383.1 1025.2,384.9 1022.6,386.7 1020.1,388.5 1017.6,390.3 1015,392 1012.5,393.8 1010,395.6 1007.4,397.4 1004.9,399.2 1002.4,400.9 999.8,402.7 997.3,404.5 994.8,406.3 992.2,408.1 989.7,409.8 987.1,411.6 984.6,413.4 982.9,414.6"/><polygon points="980.2,410.8 972,422.3 985.6,418.4"/>
<path d="M1245,224.7L1247.3,226.8 1249.5,228.8 1251.8,230.9 1254.1,233 1256.4,235 1258.7,237.1 1261,239.1 1263.4,241.2 1265.7,243.2 1268,245.3 1270.3,247.4 1272.6,249.4 1274.9,251.5 1277.1,253.6 1279.4,255.7 1281.6,257.8 1283.8,259.9 1286,262 1288.1,264.2 1290.3,266.3 1292.3,268.5 1294.4,270.7 1296.6,273.1 1298.7,275.5 1300.9,277.9 1303,280.4 1305.1,283 1307.2,285.5 1309.3,288.1 1311.4,290.6 1313.4,293.2 1315.4,295.8 1317.4,298.4 1319.3,300.9 1321.3,303.4 1323.1,305.9 1324.9,308.4 1326.7,310.8 1328.4,313.2 1330.1,315.5 1331.7,317.8 1333.3,320 1335.3,322.8 1337.1,325.6 1338.9,328.3 1340.5,330.9 1342.1,333.5 1343.6,336 1344.4,337.3"/><polygon points="1340.4,339.7 1351.3,348.7 1348.4,334.8"/>
<path d="M1253.8,224.7L1484.8,342.6"/><polygon points="1482.7,346.8 1496.7,348.7 1486.9,338.5"/>
<path d="M1269.7,221.2L1272.7,221.6 1275.7,221.9 1278.6,222.3 1281.5,222.7 1284.3,223 1287.2,223.4 1290,223.8 1292.8,224.2 1295.6,224.6 1298.4,225 1301.2,225.4 1304.1,225.7 1307,226.1 1310,226.5 1313,226.8 1316,227.2 1319.2,227.5 1322.4,227.8 1325.7,228.1 1329.1,228.4 1332.6,228.7 1336.2,229 1340,229.2 1342.3,229.3 1344.6,229.4 1347,229.6 1349.5,229.6 1352,229.7 1354.5,229.8 1357.1,229.9 1359.8,229.9 1362.5,230 1365.2,230 1368,230 1370.8,230.1 1373.7,230.1 1376.5,230.1 1379.5,230.1 1382.4,230.1 1385.4,230.1 1388.4,230.1 1391.5,230 1394.6,230 1397.7,230 1400.8,229.9 1403.9,229.9 1407.1,229.9 1410.3,229.8 1413.5,229.8 1416.7,229.7 1419.9,229.7 1423.2,229.6 1426.4,229.6 1429.7,229.5 1433,229.5 1436.3,229.4 1439.5,229.4 1442.8,229.3 1446.1,229.3 1449.4,229.3 1452.7,229.2 1456,229.2 1459.3,229.1 1462.5,229.1 1465.8,229.1 1469.1,229.1 1472.3,229.1 1475.5,229.1 1478.7,229.1 1481.9,229.1 1485.1,229.1 1488.3,229.1 1491.4,229.1 1494.5,229.1 1497.6,229.2 1500.7,229.2 1503.7,229.3 1506.8,229.4 1509.7,229.4 1512.7,229.5 1515.6,229.6 1518.5,229.8 1521.3,229.9 1524.1,230 1526.9,230.2 1529.6,230.3 1532.3,230.5 1535.7,230.7 1539.1,231 1542.4,231.2 1545.7,231.5 1549,231.8 1552.3,232.1 1555.6,232.3 1558.8,232.6 1562,233 1565.3,233.3 1568.4,233.6 1571.6,233.9 1574.8,234.3 1577.9,234.6 1581,235 1584.1,235.3 1587.2,235.7 1590.3,236.1 1593.3,236.5 1596.3,236.9 1599.4,237.3 1602.4,237.7 1605.3,238.1 1608.3,238.6 1611.3,239 1614.2,239.4 1617.1,239.9 1620.1,240.3 1623,240.8 1625.8,241.3 1628.7,241.8 1631.6,242.3 1634.4,242.7 1637.2,243.2 1640.1,243.8 1642.9,244.3 1645.7,244.8 1648.5,245.3 1651.2,245.9 1654,246.4 1657.2,247 1660.5,247.7 1663.8,248.3 1667.1,248.9 1670.5,249.5 1673.8,250.1 1677.2,250.7 1680.5,251.3 1683.8,251.9 1687.1,252.5 1690.4,253.1 1693.7,253.8 1696.9,254.4 1700.1,255.1 1703.2,255.8 1706.3,256.5 1709.4,257.3 1712.4,258 1715.3,258.8 1718.1,259.7 1720.9,260.6 1723.6,261.5 1726.2,262.4 1728.7,263.4 1731,264.5 1733.3,265.6 1735.5,266.7 1737.6,267.9 1739.5,269.2 1742.3,271.3 1745,273.5 1747.4,275.8 1749.6,278.2 1751.6,280.7 1753.5,283.3 1755.1,286 1756.7,288.7 1758.1,291.4 1759.4,294.3 1760.5,297.1 1761.6,300 1762.5,302.8 1763.2,305.7 1763.9,308.6 1764.3,311.6 1764.7,314.7 1764.9,317.8 1765,321 1765.1,324.1 1765,327.3 1764.8,330.5 1764.5,333.7 1764.2,336.9 1763.8,340 1763.3,343 1762.8,346.1 1762.2,349.2 1761.5,352.4 1760.7,355.5 1759.9,358.7 1758.9,361.9 1757.9,365.1 1756.8,368.2 1755.6,371.2 1754.3,374.2 1752.8,377.1 1751.3,379.9 1749.7,382.5 1748,385 1746.2,387.3 1744.2,389.5 1742.1,391.7 1739.9,393.8 1737.6,395.8 1735.2,397.8 1732.7,399.6 1730.1,401.4 1727.5,403.1 1724.9,404.8 1722.3,406.4 1719.6,407.9 1717,409.3 1714.5,410.7 1712,412 1709,413.4 1706.1,414.7 1703,415.8 1700,416.7 1697,417.6 1694,418.4 1691.7,419"/><polygon points="1690.4,414.5 1678.8,422.5 1692.9,423.5"/>
<path d="M1360.7,224.7L1360.7,335.3"/><polygon points="1356,335.3 1360.7,348.7 1365.4,335.3"/>
<path d="M1418.7,216.5L1421.7,216.9 1424.8,217.2 1427.8,217.6 1430.9,218 1433.9,218.3 1437,218.7 1440.1,219 1443.1,219.4 1446.2,219.8 1449.3,220.1 1452.4,220.5 1455.5,220.9 1458.5,221.2 1461.6,221.6 1464.7,222 1467.8,222.3 1470.9,222.7 1473.9,223.1 1477,223.4 1480.1,223.8 1483.2,224.2 1486.2,224.5 1489.3,224.9 1492.3,225.3 1495.4,225.6 1498.4,226 1501.5,226.3 1504.5,226.7 1507.5,227.1 1510.5,227.4 1513.5,227.8 1516.5,228.1 1519.5,228.5 1522.4,228.9 1525.4,229.2 1528.4,229.6 1531.3,229.9 1534.2,230.3 1537.1,230.6 1540,231 1543.2,231.4 1546.4,231.7 1549.6,232.1 1552.8,232.4 1556.1,232.8 1559.3,233.1 1562.6,233.4 1565.8,233.7 1569.1,234 1572.4,234.3 1575.6,234.6 1578.9,234.9 1582.1,235.3 1585.3,235.6 1588.5,235.9 1591.7,236.2 1594.8,236.5 1597.9,236.8 1601,237.2 1604.1,237.5 1607.1,237.9 1610.1,238.2 1613.1,238.6 1616,239 1618.9,239.4 1621.7,239.9 1624.4,240.3 1627.2,240.8 1629.8,241.3 1632.4,241.8 1634.9,242.3 1637.4,242.9 1639.8,243.5 1643.3,244.4 1646.6,245.4 1649.9,246.4 1653.1,247.4 1656.2,248.4 1659.1,249.5 1662.1,250.6 1664.9,251.7 1667.6,252.9 1670.3,254.1 1672.9,255.3 1675.4,256.6 1677.8,257.9 1680.2,259.2 1682.5,260.6 1685.4,262.4 1688.2,264.3 1690.9,266.3 1693.4,268.2 1695.8,270.3 1698,272.4 1700.1,274.6 1702.1,276.8 1703.9,279.1 1705.8,281.8 1707.6,284.6 1709.3,287.4 1710.7,290.3 1711.8,293.4 1712.7,296.6 1713.2,300 1713.3,302.6 1713.3,305.4 1713.1,308.3 1712.7,311.3 1712.1,314.4 1711.4,317.5 1710.6,320.7 1709.7,324 1708.7,327.2 1707.7,330.5 1706.6,333.7 1705.4,336.9 1704.3,340 1703.3,342.7 1702.2,345.3 1701.1,348 1699.9,350.7 1698.7,353.5 1697.4,356.2 1696,358.9 1694.7,361.6 1693.2,364.3 1691.7,367 1690.2,369.7 1688.6,372.3 1687,374.9 1685.3,377.5 1683.6,380.1 1681.8,382.6 1680,385 1678.2,387.3 1676.2,389.6 1674.3,391.9 1672.2,394.1 1670.1,396.3 1667.9,398.4 1665.7,400.5 1663.4,402.6 1661.2,404.7 1658.9,406.8 1656.5,408.8 1654.2,410.9 1651.9,412.9 1650.3,414.3"/><polygon points="1647.2,410.9 1640.5,423.3 1653.5,417.7"/>
<path d="M1229.7,299.3L1229.6,302.5 1229.6,305.6 1229.5,308.8 1229.5,311.9 1229.4,315 1229.2,318 1229,321.3 1228.7,324.4 1228.4,327.5 1228,330.7 1227.5,334 1227,337.3 1226.4,340.7 1225.8,344.2 1225,347.6 1224.1,350.9 1223,354 1221.5,357.1 1219.7,360.1 1217.8,363 1215.8,365.6 1214,368 1212.1,370.7 1210.2,373 1207.6,375 1205.5,376 1203.2,376.8 1200.5,377.5 1197.6,378.1 1194.4,378.7 1191,379.2 1187.5,379.8 1183.8,380.5 1180,381.3 1177.8,381.8 1175.4,382.3 1173,382.9 1170.5,383.5 1167.9,384.1 1165.2,384.7 1162.5,385.3 1159.7,385.9 1156.8,386.6 1153.9,387.2 1150.9,387.9 1147.9,388.6 1144.8,389.3 1141.7,390 1138.6,390.7 1135.4,391.4 1132.2,392.2 1129,392.9 1125.8,393.6 1122.6,394.4 1119.3,395.1 1116.1,395.8 1112.8,396.6 1109.6,397.3 1106.4,398 1103.2,398.8 1100,399.5 1097.3,400.1 1094.5,400.8 1091.7,401.4 1088.9,402 1086.1,402.7 1083.2,403.3 1080.4,404 1077.5,404.6 1074.6,405.3 1071.7,405.9 1068.8,406.6 1065.8,407.3 1062.9,407.9 1059.9,408.6 1057,409.3 1054,409.9 1051,410.6 1048,411.3 1045,412 1042,412.7 1039,413.3 1036,414 1033,414.7 1030,415.4 1027,416.1 1024,416.7 1021,417.4 1018,418.1 1015,418.8 1012,419.5 1009,420.1 1007.2,420.6"/><polygon points="1006.2,416 994.2,423.5 1008.2,425.1"/>
<path d="M1236.1,299.3L1238,301.9 1239.8,304.3 1241.5,306.7 1243.2,309.2 1245.1,311.7 1247.1,314.3 1249.4,317 1252,320 1253.5,321.7 1255.1,323.5 1256.8,325.4 1258.5,327.3 1260.3,329.3 1262.1,331.5 1264,333.6 1266,335.8 1268,338.1 1270.1,340.4 1272.3,342.7 1274.5,345 1276.7,347.4 1279,349.7 1281.4,352.1 1283.8,354.4 1286.2,356.7 1288.7,359 1291.3,361.3 1293.8,363.5 1296.5,365.6 1299.1,367.7 1301.8,369.7 1304.6,371.7 1307.3,373.6 1310.2,375.3 1313,377 1315.4,378.3 1317.8,379.6 1320.2,380.8 1322.7,382 1325.2,383.1 1327.8,384.3 1330.4,385.4 1333.1,386.4 1335.8,387.4 1338.5,388.4 1341.3,389.4 1344.1,390.4 1346.9,391.3 1349.8,392.2 1352.7,393.1 1355.6,393.9 1358.6,394.7 1361.5,395.5 1364.5,396.3 1367.5,397.1 1370.6,397.9 1373.6,398.6 1376.7,399.3 1379.8,400 1382.9,400.7 1386,401.4 1389.1,402.1 1392.2,402.8 1395.3,403.4 1398.5,404.1 1401.6,404.7 1404.8,405.4 1407.9,406 1411.1,406.6 1414.2,407.3 1417.4,407.9 1420.5,408.5 1423.7,409.1 1426.8,409.8 1429.9,410.4 1432.7,411 1435.5,411.5 1438.4,412 1441.2,412.6 1444.1,413.1 1447,413.6 1449.9,414 1452.8,414.5 1455.7,415 1458.7,415.4 1461.6,415.8 1464.6,416.3 1467.5,416.7 1470.5,417.1 1473.5,417.5 1476.5,417.8 1479.5,418.2 1482.5,418.6 1485.5,418.9 1488.5,419.3 1491.5,419.6 1494.6,420 1497.6,420.3 1500.7,420.6 1503.7,421 1506.7,421.3 1509.8,421.6 1512.9,421.9 1515.9,422.2 1519,422.6 1522,422.9 1525.1,423.2 1528.2,423.5 1531.2,423.8 1534.3,424.1 1537.3,424.4 1540.4,424.7 1543.5,425 1546.5,425.4 1549.6,425.7 1552.6,426 1555.7,426.3 1558.7,426.7 1561.7,427 1563.6,427.2"/><polygon points="1563,431.9 1576.8,428.8 1564.1,422.6"/>
<path d="M1586.9,299.3L1414.4,345.2"/><polygon points="1413.2,340.7 1401.5,348.7 1415.6,349.8"/>
<path d="M1607,299.3L1552.4,340.6"/><polygon points="1549.6,336.9 1541.8,348.7 1555.2,344.3"/>
<path d="M1625.3,299.3L1625.3,410"/><polygon points="1620.6,410 1625.3,423.3 1630,410"/>
<path d="M1578.5,299.3L1575.7,300.5 1572.8,301.7 1569.9,302.8 1567,304 1564,305.2 1561.1,306.3 1558.1,307.5 1555.1,308.7 1552,309.9 1549,311.1 1545.9,312.2 1542.9,313.4 1539.8,314.6 1536.8,315.8 1533.7,317 1530.6,318.2 1527.6,319.3 1524.5,320.5 1521.5,321.7 1518.5,322.9 1515.5,324 1512.5,325.2 1509.6,326.4 1506.6,327.6 1503.7,328.7 1500.8,329.9 1498,331.1 1495.2,332.2 1492.4,333.4 1489.7,334.5 1487,335.7 1484.4,336.8 1481.8,338 1479.3,339.1 1476.8,340.2 1474.4,341.4 1472.1,342.5 1469.8,343.6 1467.5,344.7 1465.4,345.8 1463.3,346.9 1460.2,348.6 1457.4,350.4 1454.9,352.2 1452.5,353.9 1450.3,355.7 1448.3,357.4 1446.2,359.2 1444.3,360.9 1442.2,362.6 1440.1,364.3 1437.9,365.9 1435.5,367.6 1432.9,369.2 1430,370.7 1426.8,372.2 1423.2,373.7 1421.4,374.4 1419.6,375 1417.7,375.7 1415.8,376.3 1413.7,376.9 1411.6,377.5 1409.5,378.1 1407.3,378.7 1405,379.3 1402.7,379.9 1400.3,380.5 1397.9,381.1 1395.4,381.6 1392.9,382.2 1390.3,382.7 1387.7,383.3 1385,383.8 1382.3,384.3 1379.6,384.8 1376.8,385.3 1373.9,385.8 1371.1,386.3 1368.1,386.8 1365.2,387.3 1362.2,387.8 1359.2,388.3 1356.1,388.7 1353,389.2 1349.9,389.6 1346.8,390.1 1343.6,390.5 1340.4,391 1337.2,391.4 1334,391.8 1330.7,392.3 1327.4,392.7 1324.1,393.1 1320.8,393.5 1317.5,393.9 1314.1,394.3 1310.7,394.7 1307.4,395.1 1304,395.5 1300.6,395.9 1297.2,396.3 1293.8,396.6 1290.4,397 1287,397.4 1283.6,397.7 1280.2,398.1 1276.8,398.5 1273.4,398.8 1270,399.2 1266.6,399.6 1263.2,399.9 1259.8,400.3 1256.4,400.6 1253,400.9 1249.7,401.3 1246.4,401.6 1243,402 1239.7,402.3 1236.4,402.7 1233.2,403 1229.9,403.3 1226.7,403.7 1223.5,404 1220.3,404.3 1217.2,404.7 1214.1,405 1211,405.3 1207.9,405.7 1204.9,406 1201.9,406.3 1198.9,406.7 1196,407 1192.9,407.4 1189.8,407.7 1186.7,408 1183.6,408.4 1180.6,408.7 1177.5,409 1174.4,409.3 1171.4,409.7 1168.3,410 1165.3,410.3 1162.2,410.6 1159.2,410.9 1156.1,411.1 1153.1,411.4 1150,411.7 1147,412 1144,412.3 1140.9,412.5 1137.9,412.8 1134.9,413 1131.9,413.3 1128.8,413.6 1125.8,413.8 1122.8,414.1 1119.8,414.3 1116.8,414.5 1113.8,414.8 1110.8,415 1107.8,415.2 1104.8,415.5 1101.8,415.7 1098.8,415.9 1095.8,416.2 1092.8,416.4 1089.8,416.6 1086.8,416.8 1083.8,417.1 1080.8,417.3 1077.9,417.5 1074.9,417.7 1071.9,417.9 1068.9,418.1 1065.9,418.4 1062.9,418.6 1059.9,418.8 1056.9,419 1054,419.2 1051,419.4 1048,419.7 1045,419.9 1042,420.1 1039,420.3 1036,420.5 1033,420.8 1030,421 1027,421.2 1024,421.4 1021,421.7 1018,421.9 1015.1,422.1 1012,422.3 1009,422.6 1007.3,422.7"/><polygon points="1006.9,418.1 994,423.8 1007.7,427.4"/>
<path d="M1124.5,374L996.8,418.1"/><polygon points="995.3,413.7 984.2,422.5 998.3,422.6"/>
<path d="M1149.6,374L1119.3,412.8"/><polygon points="1115.6,409.9 1111.1,423.3 1123,415.7"/>
<path d="M1321.3,367.6L1009.1,422.2"/><polygon points="1008.3,417.6 996,424.5 1009.9,426.8"/>
<path d="M1400.5,373L1567.4,419.5"/><polygon points="1566.1,424 1580.2,423.1 1568.6,415"/>
<path d="M1475,372L1196.1,420.7"/><polygon points="1195.3,416.1 1183,423 1196.9,425.3"/>
<path d="M1483.3,374L1480.4,374.9 1477.5,375.8 1474.6,376.7 1471.7,377.6 1468.9,378.5 1466,379.4 1463.1,380.3 1460.3,381.2 1457.4,382.2 1454.5,383.1 1451.7,384 1448.8,384.9 1445.9,385.8 1443.1,386.8 1440.2,387.7 1437.4,388.6 1434.5,389.5 1431.7,390.5 1428.8,391.4 1425.9,392.3 1423.1,393.2 1420.2,394.1 1417.3,395 1414.5,396 1411.6,396.9 1408.7,397.8 1405.9,398.7 1403,399.6 1400.1,400.5 1397.2,401.4 1394.3,402.3 1391.4,403.2 1388.5,404 1385.6,404.9 1382.6,405.8 1379.7,406.7 1376.8,407.5 1373.8,408.4 1370.9,409.2 1367.9,410.1 1365,410.9 1362,411.8 1359,412.6 1356,413.4 1353,414.2 1350,415 1347.2,415.7 1344.3,416.5 1341.4,417.2 1338.6,418 1335.7,418.7 1332.8,419.4 1329.9,420.1 1327,420.9 1324.2,421.6 1321.2,422.3 1318.3,423 1315.4,423.7 1312.5,424.4 1309.6,425.1 1306.6,425.8 1303.7,426.5 1300.8,427.2 1297.8,427.9 1294.9,428.5 1291.9,429.2 1288.9,429.9 1286,430.6 1283,431.2 1280,431.9 1277.1,432.5 1274.1,433.2 1271.1,433.8 1268.1,434.5 1265.1,435.1 1262.1,435.8 1259.1,436.4 1256.1,437 1253.1,437.7 1250.1,438.3 1247.1,438.9 1244.1,439.5 1241.1,440.2 1238.1,440.8 1235.1,441.4 1232.1,442 1229.1,442.6 1226.1,443.2 1223.1,443.8 1220.1,444.4 1217.1,445 1214.1,445.5 1211,446.1 1208,446.7 1205,447.3 1202,447.9 1199,448.4 1196,449 1193.1,449.6 1190.1,450.1 1187.2,450.7 1184.2,451.2 1181.3,451.8 1178.3,452.3 1175.4,452.8 1172.5,453.4 1169.5,453.9 1166.6,454.5 1163.6,455 1160.7,455.5 1157.8,456 1154.8,456.6 1151.9,457.1 1148.9,457.6 1146,458.1 1143,458.6 1140.1,459.2 1137.1,459.7 1134.2,460.2 1131.2,460.7 1128.3,461.2 1125.3,461.7 1122.4,462.1 1119.4,462.6 1116.4,463.1 1113.5,463.6 1110.5,464.1 1107.5,464.5 1104.5,465 1101.5,465.4 1098.6,465.9 1095.6,466.4 1092.6,466.8 1089.5,467.2 1086.5,467.7 1083.5,468.1 1080.5,468.5 1077.5,468.9 1074.4,469.4 1071.4,469.8 1068.3,470.2 1065.3,470.6 1062.2,471 1059.1,471.3 1056.1,471.7 1053,472.1 1049.9,472.5 1046.8,472.8 1043.7,473.2 1040.6,473.5 1037.4,473.9 1034.3,474.2 1031.4,474.5 1028.5,474.8 1025.5,475.1 1022.6,475.3 1019.6,475.6 1016.6,475.9 1013.6,476.1 1010.6,476.3 1007.5,476.6 1004.5,476.8 1001.4,477 998.3,477.2 995.2,477.4 992.1,477.6 989,477.8 985.8,477.9 982.7,478.1 979.6,478.3 976.4,478.4 973.2,478.6 970.1,478.8 966.9,478.9 963.7,479.1 960.6,479.2 957.4,479.3 954.2,479.5 951,479.6 947.8,479.7 944.6,479.8 941.5,480 938.3,480.1 935.1,480.2 931.9,480.3 928.8,480.5 925.6,480.6 922.5,480.7 919.3,480.8 916.2,480.9 913,481 909.9,481.2 906.8,481.3 903.7,481.4 900.6,481.5 897.6,481.6 894.5,481.8 891.5,481.9 888.4,482 885.4,482.2 882.4,482.3 879.4,482.5 876.5,482.6 873.5,482.8 870.6,482.9 867.7,483.1 864.8,483.2 862,483.4 859.1,483.6 856.3,483.8 853.5,484 850.8,484.1 848,484.4 845.3,484.6 842.6,484.8 840,485 836.6,485.3 833.2,485.6 829.9,485.9 826.6,486.2 823.4,486.6 820.2,486.9 817,487.2 813.9,487.5 810.7,487.9 807.6,488.2 804.6,488.6 801.5,488.9 798.5,489.3 795.5,489.6 792.5,490 789.6,490.4 786.6,490.7 783.7,491.1 780.7,491.5 777.8,491.8 774.9,492.2 772,492.6 769.1,493 766.3,493.3 763.4,493.7 760.5,494.1 757.6,494.5 754.7,494.8 751.8,495.2 748.9,495.6 746,496 743.1,496.3 740.2,496.7 738.5,496.9"/><polygon points="738,492.3 725.3,498.5 739.1,501.5"/>
<path d="M852.2,374L916.3,416"/><polygon points="913.7,419.9 927.4,423.3 918.8,412.1"/>
<path d="M872.3,373L1044.8,420.3"/><polygon points="1043.6,424.8 1057.7,423.8 1046.1,415.8"/>
<path d="M925.7,374L861.2,416.1"/><polygon points="858.6,412.1 850,423.3 863.7,420"/>
<path d="M946.4,374L946.4,410"/><polygon points="941.7,410 946.4,423.3 951.1,410"/>
<path d="M972.5,374L1062.4,417.9"/><polygon points="1060.4,422.1 1074.4,423.8 1064.5,413.8"/>
<path d="M441.6,374L449,410.3"/><polygon points="444.5,411.2 451.7,423.3 453.6,409.3"/>
<path d="M468,373.8L786,493.3"/><polygon points="784.4,497.7 798.5,498 787.7,488.9"/>
<path d="M807.4,498L483.3,377.3"/><polygon points="484.9,372.9 470.8,372.6 481.7,381.6"/>
<path d="M459,448.7L465.2,484.9"/><polygon points="460.6,485.6 467.4,498 469.8,484.1"/>
<path d="M445.7,523.3L362.2,566.5"/><polygon points="360.1,562.4 350.4,572.7 364.4,570.7"/>
<path d="M477.4,523.3L493.7,560.5"/><polygon points="489.5,562.3 499.1,572.7 498,558.6"/>
<path d="M509.1,523.3L638.5,568.3"/><polygon points="637,572.7 651.1,572.7 640,563.9"/>
<path d="M668.5,523.3L678.3,559.8"/><polygon points="673.8,561 681.8,572.7 682.8,558.6"/>
<path d="M830.5,523.3L779.3,635.2"/><polygon points="775,633.3 773.7,647.3 783.5,637.2"/>
<path d="M840.5,523.3L867.5,634.4"/><polygon points="862.9,635.5 870.6,647.3 872,633.3"/>
<path d="M1087.8,448.7L898.4,637.9"/><polygon points="895.1,634.6 889,647.3 901.7,641.2"/>
<path d="M1610.3,448.7L1566.6,489"/><polygon points="1563.4,485.5 1556.8,498 1569.8,492.4"/>
<path d="M1625.3,448.7L1625,451.7 1624.8,454.8 1624.7,457.9 1624.6,461.1 1624.5,464.2 1624.4,467.4 1624.3,470.5 1624.2,473.7 1624,476.8 1623.8,479.9 1623.5,482.9 1623.1,485.8 1622.6,488.7 1622,491.5 1621.2,494.2 1620.3,496.8 1619,499.7 1617.7,502.5 1616.2,505.2 1614.6,507.8 1612.8,510.3 1611,512.7 1609,515.1 1606.9,517.4 1604.6,519.8 1602.2,522.1 1599.7,524.5 1597,526.9 1595.1,528.5 1593.2,530.1 1591.2,531.8 1589.2,533.4 1587,535 1584.8,536.7 1582.6,538.3 1580.3,539.9 1577.9,541.5 1575.4,543.2 1572.9,544.8 1570.4,546.4 1567.8,548 1565.1,549.6 1562.4,551.1 1559.7,552.7 1556.9,554.2 1554,555.7 1551.2,557.2 1548.2,558.7 1545.3,560.1 1542.3,561.6 1539.3,563 1536.2,564.3 1533.1,565.7 1530,567 1527.6,568 1525.1,569 1522.6,569.9 1520.1,570.8 1517.5,571.7 1515,572.6 1512.3,573.5 1509.7,574.4 1507,575.2 1504.3,576.1 1501.5,576.9 1498.8,577.7 1496,578.5 1493.1,579.3 1490.3,580.1 1487.4,580.8 1484.5,581.6 1481.6,582.3 1478.6,583 1475.7,583.8 1472.7,584.5 1469.7,585.2 1466.6,585.9 1463.6,586.6 1460.5,587.2 1457.4,587.9 1454.3,588.6 1451.2,589.3 1448.1,589.9 1444.9,590.6 1441.8,591.2 1438.6,591.9 1435.4,592.6 1432.2,593.2 1429,593.9 1425.8,594.5 1422.5,595.2 1419.3,595.8 1416,596.5 1412.8,597.1 1409.5,597.8 1406.2,598.4 1403,599.1 1399.7,599.7 1396.4,600.4 1393.7,600.9 1391,601.5 1388.3,602 1385.6,602.6 1382.9,603.1 1380.1,603.6 1377.4,604.2 1374.6,604.7 1371.9,605.2 1369.1,605.7 1366.3,606.3 1363.5,606.8 1360.7,607.3 1357.9,607.8 1355.1,608.3 1352.2,608.9 1349.4,609.4 1346.5,609.9 1343.7,610.4 1340.8,610.9 1337.9,611.4 1335,611.9 1332.1,612.4 1329.2,612.9 1326.3,613.4 1323.4,613.9 1320.4,614.3 1317.5,614.8 1314.5,615.3 1311.5,615.8 1308.6,616.3 1305.6,616.7 1302.6,617.2 1299.6,617.7 1296.6,618.2 1293.6,618.6 1290.5,619.1 1287.5,619.6 1284.5,620 1281.4,620.5 1278.3,620.9 1275.3,621.4 1272.2,621.9 1269.1,622.3 1266,622.8 1262.9,623.2 1259.8,623.7 1256.7,624.1 1253.6,624.5 1250.4,625 1247.3,625.4 1244.1,625.8 1241,626.3 1237.8,626.7 1234.6,627.1 1231.5,627.6 1228.3,628 1225.1,628.4 1221.9,628.8 1218.7,629.2 1215.4,629.7 1212.2,630.1 1209,630.5 1205.8,630.9 1202.5,631.3 1199.3,631.7 1196,632.1 1193.3,632.4 1190.5,632.8 1187.7,633.1 1185,633.4 1182.2,633.7 1179.4,634.1 1176.6,634.4 1173.8,634.7 1171,635 1168.1,635.3 1165.3,635.6 1162.4,635.9 1159.6,636.2 1156.7,636.5 1153.8,636.8 1150.9,637.1 1148,637.4 1145.1,637.7 1142.2,638 1139.3,638.3 1136.4,638.6 1133.4,638.8 1130.5,639.1 1127.5,639.4 1124.6,639.7 1121.6,640 1118.6,640.2 1115.7,640.5 1112.7,640.8 1109.7,641 1106.7,641.3 1103.7,641.6 1100.7,641.8 1097.7,642.1 1094.7,642.3 1091.6,642.6 1088.6,642.9 1085.6,643.1 1082.5,643.4 1079.5,643.6 1076.4,643.9 1073.4,644.1 1070.3,644.4 1067.3,644.6 1064.2,644.9 1061.2,645.1 1058.1,645.4 1055,645.6 1051.9,645.9 1048.9,646.1 1045.8,646.4 1042.7,646.6 1039.6,646.8 1036.5,647.1 1033.5,647.3 1030.4,647.6 1027.3,647.8 1024.2,648.1 1021.1,648.3 1018,648.5 1014.9,648.8 1011.8,649 1008.7,649.3 1005.6,649.5 1002.5,649.7 999.5,650 996.4,650.2 993.3,650.5 990.2,650.7 987.1,650.9 984,651.2 980.9,651.4 977.8,651.7 974.7,651.9 971.7,652.2 968.6,652.4 965.5,652.6 962.4,652.9 959.4,653.1 956.3,653.4 953.2,653.6 950.2,653.9 947.1,654.1 944,654.4 941,654.6 937.9,654.9 934.9,655.1 931.9,655.4 928.8,655.6 925.8,655.9 924,656.1"/><polygon points="923.6,651.4 910.7,657.2 924.4,660.7"/>
<path d="M455.7,598L271.5,645.5"/><polygon points="270.3,641 258.6,648.8 272.7,650"/>
<path d="M480.7,598L399,641.1"/><polygon points="396.8,637 387.2,647.3 401.2,645.2"/>
<path d="M505.1,598L505.1,634"/><polygon points="500.4,634 505.1,647.3 509.8,634"/>
<path d="M529.2,598L612.6,641.2"/><polygon points="610.4,645.3 624.4,647.3 614.7,637.1"/>
<path d="M549.2,598L712.5,643.7"/><polygon points="711.2,648.2 725.3,647.3 713.7,639.2"/>
<path d="M576,598L825.9,646.5"/><polygon points="825,651 839,649 826.8,641.9"/>
<path d="M249.6,647.2C266.7,643.6 283.3,647.9 283.3,660C283.3,668.8 274.6,673.4 263.2,674"/><polygon points="262.5,678.6 249.6,672.8 263.3,669.3"/>
</g>
<g class="n">
<rect x="811.2" y="6" width="241.4" height="69.3" fill="#bfbfbf" stroke="#000"/>
<text x="821.9" y="22" textLength="152" lengthAdjust="spacingAndGlyphs">/mnt/data0/chrisj/rtems</text>
<text x="821.9" y="36.7" textLength="175" lengthAdjust="spacingAndGlyphs">/releases/rtems-release.git</text>
<text x="821.9" y="51.3" textLength="196" lengthAdjust="spacingAndGlyphs">/4.11.3/ws-rtems/rtems-4.11.3</text>
<text x="822.4" y="66" textLength="219" lengthAdjust="spacingAndGlyphs">/cpukit/librpc/src/rpc/svc_simple.c</text>
<rect x="5.5" y="124.7" width="66.7" height="25.3" fill="#fff" stroke="#bfbfbf"/>
<text x="16.8" y="140.7" textLength="44" lengthAdjust="spacingAndGlyphs">stdio.h</text>
<rect x="96.5" y="124.7" width="70.7" height="25.3" fill="#fff" stroke="#bfbfbf"/>
<text x="107.8" y="140.7" textLength="48" lengthAdjust="spacingAndGlyphs">stdlib.h</text>
<rect x="1155.4" y="124.7" width="78.7" height="25.3" fill="#fff" stroke="#000"/>
<text x="1166.7" y="140.7" textLength="56" lengthAdjust="spacingAndGlyphs">rpc/rpc.h</text>
<rect x="1612.7" y="124.7" width="86.7" height="25.3" fill="#fff" stroke="#bfbfbf"/>
<text x="1623.5" y="140.7" textLength="65" lengthAdjust="spacingAndGlyphs">inttypes.h</text>
<rect x="585.2" y="199.3" width="82.7" height="25.3" fill="#fff" stroke="#000"/>
<text x="596.5" y="215.3" textLength="60" lengthAdjust="spacingAndGlyphs">rpc/clnt.h</text>
<rect x="783.7" y="199.3" width="98.7" height="25.3" fill="#fff" stroke="#000"/>
<text x="794.5" y="215.3" textLength="77" lengthAdjust="spacingAndGlyphs">rpc/rpcent.h</text>
<rect x="957.2" y="199.3" width="122.7" height="25.3" fill="#fff" stroke="#000"/>
<text x="968.5" y="215.3" textLength="100" lengthAdjust="spacingAndGlyphs">rpc/auth_unix.h</text>
<rect x="1189.3" y="199.3" width="80" height="25.3" fill="#fff" stroke="#000"/>
<text x="1200.3" y="215.3" textLength="58" lengthAdjust="spacingAndGlyphs">rpc/svc.h</text>
<rect x="1304.4" y="199.3" width="113.3" height="25.3" fill="#fff" stroke="#000"/>
<text x="1315.6" y="215.3" textLength="91" lengthAdjust="spacingAndGlyphs">rpc/rpc_msg.h</text>
<rect x="243" y="274" width="116" height="25.3" fill="#fff" stroke="#000"/>
<text x="254" y="290" textLength="94" lengthAdjust="spacingAndGlyphs">rpc/svc_auth.h</text>
<rect x="383.2" y="274" width="110.7" height="25.3" fill="#fff" stroke="#000"/>
<text x="394" y="290" textLength="89" lengthAdjust="spacingAndGlyphs">rpc/clnt_soc.h</text>
<rect x="569.4" y="274" width="114.7" height="25.3" fill="#fff" stroke="#000"/>
<text x="580.7" y="290" textLength="92" lengthAdjust="spacingAndGlyphs">rpc/clnt_stat.h</text>
<rect x="860.7" y="274" width="86.7" height="25.3" fill="#fff" stroke="#000"/>
<text x="871.5" y="290" textLength="65" lengthAdjust="spacingAndGlyphs">rpc/auth.h</text>
<rect x="1174.5" y="274" width="109.3" height="25.3" fill="#fff" stroke="#000"/>
<text x="1185.7" y="290" textLength="87" lengthAdjust="spacingAndGlyphs">rpc/svc_soc.h</text>
<rect x="1561.8" y="274" width="126.7" height="25.3" fill="#fff" stroke="#000"/>
<text x="1573.1" y="290" textLength="104" lengthAdjust="spacingAndGlyphs">rpc/pmap_clnt.h</text>
<rect x="406.3" y="348.7" width="64" height="25.3" fill="#fff" stroke="#000"/>
<text x="417.3" y="364.7" textLength="42" lengthAdjust="spacingAndGlyphs">time.h</text>
<rect x="795.2" y="348.7" width="76" height="25.3" fill="#fff" stroke="#000"/>
<text x="806.2" y="364.7" textLength="54" lengthAdjust="spacingAndGlyphs">sys/un.h</text>
<rect x="895" y="348.7" width="102.7" height="25.3" fill="#fff" stroke="#000"/>
<text x="905.8" y="364.7" textLength="81" lengthAdjust="spacingAndGlyphs">sys/socket.h</text>
<rect x="1124.4" y="348.7" width="70.7" height="25.3" fill="#fff" stroke="#000"/>
<text x="1135.2" y="364.7" textLength="49" lengthAdjust="spacingAndGlyphs">netdb.h</text>
<rect x="1321.6" y="348.7" width="78.7" height="25.3" fill="#fff" stroke="#000"/>
<text x="1332.4" y="364.7" textLength="57" lengthAdjust="spacingAndGlyphs">rpc/xdr.h</text>
<rect x="1475.7" y="348.7" width="96" height="25.3" fill="#fff" stroke="#000"/>
<text x="1486.7" y="364.7" textLength="74" lengthAdjust="spacingAndGlyphs">netinet/in.h</text>
<rect x="366.4" y="423.3" width="178.7" height="25.3" fill="#fff" stroke="#000"/>
<text x="377.7" y="439.3" textLength="156" lengthAdjust="spacingAndGlyphs">rtems/score/watchdog.h</text>
<rect x="778.4" y="423.3" width="96" height="25.3" fill="#fff" stroke="#bfbfbf"/>
<text x="789.4" y="439.3" textLength="74" lengthAdjust="spacingAndGlyphs">sys/types.h</text>
<rect x="899.2" y="423.3" width="94.7" height="25.3" fill="#fff" stroke="#bfbfbf"/>
<text x="910" y="439.3" textLength="73" lengthAdjust="spacingAndGlyphs">sys/cdefs.h</text>
<rect x="1017.7" y="423.3" width="166.7" height="25.3" fill="#fff" stroke="#000"/>
<text x="1028.5" y="439.3" textLength="145" lengthAdjust="spacingAndGlyphs">rtems/bsdnet/_types.h</text>
<rect x="1577.9" y="423.3" width="94.7" height="25.3" fill="#fff" stroke="#000"/>
<text x="1589.2" y="439.3" textLength="72" lengthAdjust="spacingAndGlyphs">rpc/types.h</text>
<rect x="394.6" y="498" width="154.7" height="25.3" fill="#fff" stroke="#000"/>
<text x="405.4" y="514" textLength="133" lengthAdjust="spacingAndGlyphs">rtems/score/object.h</text>
<rect x="605" y="498" width="120" height="25.3" fill="#fff" stroke="#000"/>
<text x="616" y="514" textLength="98" lengthAdjust="spacingAndGlyphs">rtems/endian.h</text>
<rect x="749.9" y="498" width="174.7" height="25.3" fill="#fff" stroke="#000"/>
<text x="760.7" y="514" textLength="153" lengthAdjust="spacingAndGlyphs">rtems/score/timespec.h</text>
<rect x="1497.4" y="498" width="90.7" height="25.3" fill="#fff" stroke="#bfbfbf"/>
<text x="1508.7" y="514" textLength="68" lengthAdjust="spacingAndGlyphs">sys/time.h</text>
<rect x="243.2" y="572.7" width="150.7" height="25.3" fill="#fff" stroke="#000"/>
<text x="254.5" y="588.7" textLength="128" lengthAdjust="spacingAndGlyphs">rtems/score/chain.h</text>
<rect x="418" y="572.7" width="174.7" height="25.3" fill="#fff" stroke="#000"/>
<text x="429.3" y="588.7" textLength="152" lengthAdjust="spacingAndGlyphs">rtems/score/basedefs.h</text>
<rect x="617.4" y="572.7" width="138.7" height="25.3" fill="#fff" stroke="#bfbfbf"/>
<text x="628.7" y="588.7" textLength="116" lengthAdjust="spacingAndGlyphs">rtems/score/cpu.h</text>
<rect x="188.7" y="647.3" width="70.7" height="25.3" fill="#fff" stroke="#000"/>
<text x="199.5" y="663.3" textLength="49" lengthAdjust="spacingAndGlyphs">string.h</text>
<rect x="327.3" y="647.3" width="70.7" height="25.3" fill="#fff" stroke="#000"/>
<text x="338.1" y="663.3" textLength="49" lengthAdjust="spacingAndGlyphs">limits.h</text>
<rect x="421.8" y="647.3" width="166.7" height="25.3" fill="#fff" stroke="#bfbfbf"/>
<text x="433.1" y="663.3" textLength="144" lengthAdjust="spacingAndGlyphs">rtems/score/cpuopts.h</text>
<rect x="612" y="647.3" width="74.7" height="25.3" fill="#fff" stroke="#bfbfbf"/>
<text x="622.8" y="663.3" textLength="53" lengthAdjust="spacingAndGlyphs">stddef.h</text>
<rect x="725.3" y="647.3" width="82.7" height="25.3" fill="#fff" stroke="#bfbfbf"/>
<text x="736.6" y="663.3" textLength="60" lengthAdjust="spacingAndGlyphs">stdbool.h</text>
<rect x="839.6" y="647.3" width="70.7" height="25.3" fill="#fff" stroke="#bfbfbf"/>
<text x="850.4" y="663.3" textLength="49" lengthAdjust="spacingAndGlyphs">stdint.h</text>
</g>
</svg>
</body></html>
